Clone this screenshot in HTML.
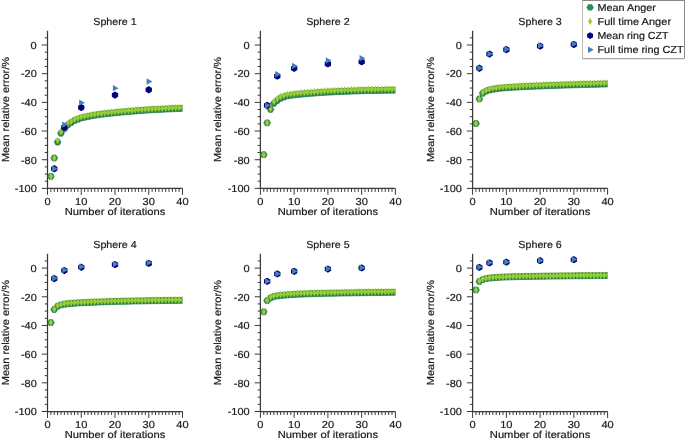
<!DOCTYPE html>
<html><head><meta charset="utf-8"><style>
html,body{margin:0;padding:0;background:#fff;}
svg{display:block;will-change:transform;}
text{text-rendering:geometricPrecision;font-family:"Liberation Sans",sans-serif;font-size:10.20px;fill:#1a1a1a;stroke:#1a1a1a;stroke-width:0.2px;}
</style></head><body>
<svg width="685" height="439" viewBox="0 0 685 439">
<rect width="685" height="439" fill="#fff"/>
<clipPath id="c0"><rect x="47.50" y="30.66" width="135.00" height="157.74"/></clipPath>
<g>
<path d="M47.50 30.66 V188.40 M46.90 188.40 H182.50" stroke="#3a3a3a" stroke-width="1.25" fill="none"/>
<path d="M47.50 188.40 H41.80 M47.50 181.23 H44.70 M47.50 174.06 H44.70 M47.50 166.89 H44.70 M47.50 159.72 H41.80 M47.50 152.55 H44.70 M47.50 145.38 H44.70 M47.50 138.21 H44.70 M47.50 131.04 H41.80 M47.50 123.87 H44.70 M47.50 116.70 H44.70 M47.50 109.53 H44.70 M47.50 102.36 H41.80 M47.50 95.19 H44.70 M47.50 88.02 H44.70 M47.50 80.85 H44.70 M47.50 73.68 H41.80 M47.50 66.51 H44.70 M47.50 59.34 H44.70 M47.50 52.17 H44.70 M47.50 45.00 H41.80 M47.50 37.83 H44.70 M47.50 188.40 V194.80 M50.88 188.40 V191.90 M54.25 188.40 V191.90 M57.62 188.40 V191.90 M61.00 188.40 V191.90 M64.38 188.40 V191.90 M67.75 188.40 V191.90 M71.12 188.40 V191.90 M74.50 188.40 V191.90 M77.88 188.40 V191.90 M81.25 188.40 V194.80 M84.62 188.40 V191.90 M88.00 188.40 V191.90 M91.38 188.40 V191.90 M94.75 188.40 V191.90 M98.12 188.40 V191.90 M101.50 188.40 V191.90 M104.88 188.40 V191.90 M108.25 188.40 V191.90 M111.62 188.40 V191.90 M115.00 188.40 V194.80 M118.38 188.40 V191.90 M121.75 188.40 V191.90 M125.12 188.40 V191.90 M128.50 188.40 V191.90 M131.88 188.40 V191.90 M135.25 188.40 V191.90 M138.62 188.40 V191.90 M142.00 188.40 V191.90 M145.38 188.40 V191.90 M148.75 188.40 V194.80 M152.12 188.40 V191.90 M155.50 188.40 V191.90 M158.88 188.40 V191.90 M162.25 188.40 V191.90 M165.62 188.40 V191.90 M169.00 188.40 V191.90 M172.38 188.40 V191.90 M175.75 188.40 V191.90 M179.12 188.40 V191.90 M182.50 188.40 V194.80" stroke="#3a3a3a" stroke-width="1" fill="none"/>
<text x="36.80" y="192.20" text-anchor="end" textLength="22.01" lengthAdjust="spacingAndGlyphs">-100</text>
<text x="36.80" y="163.52" text-anchor="end" textLength="15.84" lengthAdjust="spacingAndGlyphs">-80</text>
<text x="36.80" y="134.84" text-anchor="end" textLength="15.84" lengthAdjust="spacingAndGlyphs">-60</text>
<text x="36.80" y="106.16" text-anchor="end" textLength="15.84" lengthAdjust="spacingAndGlyphs">-40</text>
<text x="36.80" y="77.48" text-anchor="end" textLength="15.84" lengthAdjust="spacingAndGlyphs">-20</text>
<text x="36.80" y="48.80" text-anchor="end" textLength="6.17" lengthAdjust="spacingAndGlyphs">0</text>
<text x="47.50" y="204.80" text-anchor="middle" textLength="6.17" lengthAdjust="spacingAndGlyphs">0</text>
<text x="81.25" y="204.80" text-anchor="middle" textLength="12.34" lengthAdjust="spacingAndGlyphs">10</text>
<text x="115.00" y="204.80" text-anchor="middle" textLength="12.34" lengthAdjust="spacingAndGlyphs">20</text>
<text x="148.75" y="204.80" text-anchor="middle" textLength="12.34" lengthAdjust="spacingAndGlyphs">30</text>
<text x="182.50" y="204.80" text-anchor="middle" textLength="12.34" lengthAdjust="spacingAndGlyphs">40</text>
<text x="115.00" y="214.70" text-anchor="middle" textLength="100.51" lengthAdjust="spacingAndGlyphs">Number of iterations</text>
<text x="115.00" y="24.76" text-anchor="middle" textLength="43.43" lengthAdjust="spacingAndGlyphs">Sphere 1</text>
<text transform="translate(8.50 109.53) rotate(-90)" x="0" y="0" text-anchor="middle" textLength="105.15" lengthAdjust="spacingAndGlyphs">Mean relative error/%</text>
<g clip-path="url(#c0)">
<polygon points="54.27,176.35 52.58,173.41 49.17,173.41 47.48,176.35 49.17,179.30 52.58,179.30" fill="#2e8b57" stroke="#1f7a45" stroke-width="0.7"/>
<polygon points="57.65,158.00 55.95,155.05 52.55,155.05 50.85,158.00 52.55,160.94 55.95,160.94" fill="#2e8b57" stroke="#1f7a45" stroke-width="0.7"/>
<polygon points="61.02,142.08 59.33,139.14 55.92,139.14 54.23,142.08 55.92,145.03 59.33,145.03" fill="#2e8b57" stroke="#1f7a45" stroke-width="0.7"/>
<polygon points="64.40,133.19 62.70,130.25 59.30,130.25 57.60,133.19 59.30,136.14 62.70,136.14" fill="#2e8b57" stroke="#1f7a45" stroke-width="0.7"/>
<polygon points="67.78,128.75 66.08,125.80 62.67,125.80 60.98,128.75 62.67,131.69 66.08,131.69" fill="#2e8b57" stroke="#1f7a45" stroke-width="0.7"/>
<polygon points="71.15,125.02 69.45,122.07 66.05,122.07 64.35,125.02 66.05,127.96 69.45,127.96" fill="#2e8b57" stroke="#1f7a45" stroke-width="0.7"/>
<polygon points="74.53,122.64 72.83,119.69 69.42,119.69 67.72,122.64 69.42,125.58 72.83,125.58" fill="#2e8b57" stroke="#1f7a45" stroke-width="0.7"/>
<polygon points="77.90,120.57 76.20,117.63 72.80,117.63 71.10,120.57 72.80,123.52 76.20,123.52" fill="#2e8b57" stroke="#1f7a45" stroke-width="0.7"/>
<polygon points="81.28,119.21 79.58,116.26 76.17,116.26 74.47,119.21 76.17,122.15 79.58,122.15" fill="#2e8b57" stroke="#1f7a45" stroke-width="0.7"/>
<polygon points="84.65,117.99 82.95,115.05 79.55,115.05 77.85,117.99 79.55,120.94 82.95,120.94" fill="#2e8b57" stroke="#1f7a45" stroke-width="0.7"/>
<polygon points="88.03,117.22 86.33,114.27 82.92,114.27 81.22,117.22 82.92,120.16 86.33,120.16" fill="#2e8b57" stroke="#1f7a45" stroke-width="0.7"/>
<polygon points="91.40,116.51 89.70,113.56 86.30,113.56 84.60,116.51 86.30,119.45 89.70,119.45" fill="#2e8b57" stroke="#1f7a45" stroke-width="0.7"/>
<polygon points="94.78,115.86 93.08,112.91 89.67,112.91 87.97,115.86 89.67,118.80 93.08,118.80" fill="#2e8b57" stroke="#1f7a45" stroke-width="0.7"/>
<polygon points="98.15,115.25 96.45,112.31 93.05,112.31 91.35,115.25 93.05,118.20 96.45,118.20" fill="#2e8b57" stroke="#1f7a45" stroke-width="0.7"/>
<polygon points="101.53,114.69 99.83,111.75 96.42,111.75 94.72,114.69 96.42,117.64 99.83,117.64" fill="#2e8b57" stroke="#1f7a45" stroke-width="0.7"/>
<polygon points="104.90,114.27 103.20,111.33 99.80,111.33 98.10,114.27 99.80,117.22 103.20,117.22" fill="#2e8b57" stroke="#1f7a45" stroke-width="0.7"/>
<polygon points="108.28,113.88 106.58,110.94 103.17,110.94 101.47,113.88 103.17,116.83 106.58,116.83" fill="#2e8b57" stroke="#1f7a45" stroke-width="0.7"/>
<polygon points="111.65,113.51 109.95,110.57 106.55,110.57 104.85,113.51 106.55,116.46 109.95,116.46" fill="#2e8b57" stroke="#1f7a45" stroke-width="0.7"/>
<polygon points="115.03,113.16 113.33,110.22 109.92,110.22 108.22,113.16 109.92,116.11 113.33,116.11" fill="#2e8b57" stroke="#1f7a45" stroke-width="0.7"/>
<polygon points="118.40,112.83 116.70,109.88 113.30,109.88 111.60,112.83 113.30,115.77 116.70,115.77" fill="#2e8b57" stroke="#1f7a45" stroke-width="0.7"/>
<polygon points="121.78,112.48 120.08,109.54 116.67,109.54 114.97,112.48 116.67,115.43 120.08,115.43" fill="#2e8b57" stroke="#1f7a45" stroke-width="0.7"/>
<polygon points="125.15,112.15 123.45,109.21 120.05,109.21 118.35,112.15 120.05,115.10 123.45,115.10" fill="#2e8b57" stroke="#1f7a45" stroke-width="0.7"/>
<polygon points="128.53,111.84 126.83,108.90 123.42,108.90 121.72,111.84 123.42,114.78 126.83,114.78" fill="#2e8b57" stroke="#1f7a45" stroke-width="0.7"/>
<polygon points="131.90,111.54 130.20,108.59 126.80,108.59 125.10,111.54 126.80,114.48 130.20,114.48" fill="#2e8b57" stroke="#1f7a45" stroke-width="0.7"/>
<polygon points="135.28,111.25 133.57,108.31 130.18,108.31 128.47,111.25 130.18,114.19 133.57,114.19" fill="#2e8b57" stroke="#1f7a45" stroke-width="0.7"/>
<polygon points="138.65,110.97 136.95,108.03 133.55,108.03 131.85,110.97 133.55,113.92 136.95,113.92" fill="#2e8b57" stroke="#1f7a45" stroke-width="0.7"/>
<polygon points="142.03,110.71 140.32,107.76 136.93,107.76 135.22,110.71 136.93,113.65 140.32,113.65" fill="#2e8b57" stroke="#1f7a45" stroke-width="0.7"/>
<polygon points="145.40,110.45 143.70,107.50 140.30,107.50 138.60,110.45 140.30,113.39 143.70,113.39" fill="#2e8b57" stroke="#1f7a45" stroke-width="0.7"/>
<polygon points="148.78,110.20 147.07,107.26 143.68,107.26 141.97,110.20 143.68,113.14 147.07,113.14" fill="#2e8b57" stroke="#1f7a45" stroke-width="0.7"/>
<polygon points="152.15,109.96 150.45,107.02 147.05,107.02 145.35,109.96 147.05,112.90 150.45,112.90" fill="#2e8b57" stroke="#1f7a45" stroke-width="0.7"/>
<polygon points="155.53,109.78 153.82,106.84 150.43,106.84 148.72,109.78 150.43,112.72 153.82,112.72" fill="#2e8b57" stroke="#1f7a45" stroke-width="0.7"/>
<polygon points="158.90,109.61 157.20,106.66 153.80,106.66 152.10,109.61 153.80,112.55 157.20,112.55" fill="#2e8b57" stroke="#1f7a45" stroke-width="0.7"/>
<polygon points="162.28,109.44 160.57,106.49 157.18,106.49 155.47,109.44 157.18,112.38 160.57,112.38" fill="#2e8b57" stroke="#1f7a45" stroke-width="0.7"/>
<polygon points="165.65,109.27 163.95,106.33 160.55,106.33 158.85,109.27 160.55,112.22 163.95,112.22" fill="#2e8b57" stroke="#1f7a45" stroke-width="0.7"/>
<polygon points="169.03,109.11 167.32,106.17 163.93,106.17 162.22,109.11 163.93,112.06 167.32,112.06" fill="#2e8b57" stroke="#1f7a45" stroke-width="0.7"/>
<polygon points="172.40,108.96 170.70,106.02 167.30,106.02 165.60,108.96 167.30,111.90 170.70,111.90" fill="#2e8b57" stroke="#1f7a45" stroke-width="0.7"/>
<polygon points="175.78,108.81 174.07,105.87 170.68,105.87 168.97,108.81 170.68,111.75 174.07,111.75" fill="#2e8b57" stroke="#1f7a45" stroke-width="0.7"/>
<polygon points="179.15,108.66 177.45,105.72 174.05,105.72 172.35,108.66 174.05,111.61 177.45,111.61" fill="#2e8b57" stroke="#1f7a45" stroke-width="0.7"/>
<polygon points="182.53,108.52 180.82,105.58 177.43,105.58 175.72,108.52 177.43,111.47 180.82,111.47" fill="#2e8b57" stroke="#1f7a45" stroke-width="0.7"/>
<polygon points="185.90,108.38 184.20,105.44 180.80,105.44 179.10,108.38 180.80,111.33 184.20,111.33" fill="#2e8b57" stroke="#1f7a45" stroke-width="0.7"/>
<polygon points="50.88,172.65 52.98,176.35 50.88,180.05 48.77,176.35" fill="#9acd32"/>
<polygon points="54.25,154.30 56.35,158.00 54.25,161.70 52.15,158.00" fill="#9acd32"/>
<polygon points="57.62,136.66 59.73,140.36 57.62,144.06 55.52,140.36" fill="#9acd32"/>
<polygon points="61.00,128.20 63.10,131.90 61.00,135.60 58.90,131.90" fill="#9acd32"/>
<polygon points="64.38,123.79 66.47,127.49 64.38,131.19 62.27,127.49" fill="#9acd32"/>
<polygon points="67.75,120.09 69.85,123.79 67.75,127.49 65.65,123.79" fill="#9acd32"/>
<polygon points="71.12,117.73 73.22,121.43 71.12,125.13 69.03,121.43" fill="#9acd32"/>
<polygon points="74.50,115.69 76.60,119.39 74.50,123.09 72.40,119.39" fill="#9acd32"/>
<polygon points="77.88,114.35 79.97,118.05 77.88,121.75 75.78,118.05" fill="#9acd32"/>
<polygon points="81.25,113.14 83.35,116.84 81.25,120.54 79.15,116.84" fill="#9acd32"/>
<polygon points="84.62,112.38 86.72,116.08 84.62,119.78 82.53,116.08" fill="#9acd32"/>
<polygon points="88.00,111.68 90.10,115.38 88.00,119.08 85.90,115.38" fill="#9acd32"/>
<polygon points="91.38,111.04 93.47,114.74 91.38,118.44 89.28,114.74" fill="#9acd32"/>
<polygon points="94.75,110.44 96.85,114.14 94.75,117.84 92.65,114.14" fill="#9acd32"/>
<polygon points="98.12,109.89 100.22,113.59 98.12,117.29 96.03,113.59" fill="#9acd32"/>
<polygon points="101.50,109.48 103.60,113.18 101.50,116.88 99.40,113.18" fill="#9acd32"/>
<polygon points="104.88,109.09 106.97,112.79 104.88,116.49 102.78,112.79" fill="#9acd32"/>
<polygon points="108.25,108.72 110.35,112.42 108.25,116.12 106.15,112.42" fill="#9acd32"/>
<polygon points="111.62,108.38 113.72,112.08 111.62,115.78 109.53,112.08" fill="#9acd32"/>
<polygon points="115.00,108.05 117.10,111.75 115.00,115.45 112.90,111.75" fill="#9acd32"/>
<polygon points="118.38,107.71 120.47,111.41 118.38,115.11 116.28,111.41" fill="#9acd32"/>
<polygon points="121.75,107.39 123.85,111.09 121.75,114.79 119.65,111.09" fill="#9acd32"/>
<polygon points="125.12,107.08 127.22,110.78 125.12,114.48 123.03,110.78" fill="#9acd32"/>
<polygon points="128.50,106.78 130.60,110.48 128.50,114.18 126.40,110.48" fill="#9acd32"/>
<polygon points="131.88,106.50 133.97,110.20 131.88,113.90 129.78,110.20" fill="#9acd32"/>
<polygon points="135.25,106.22 137.35,109.92 135.25,113.62 133.15,109.92" fill="#9acd32"/>
<polygon points="138.62,105.96 140.72,109.66 138.62,113.36 136.53,109.66" fill="#9acd32"/>
<polygon points="142.00,105.71 144.10,109.41 142.00,113.11 139.90,109.41" fill="#9acd32"/>
<polygon points="145.38,105.46 147.47,109.16 145.38,112.86 143.28,109.16" fill="#9acd32"/>
<polygon points="148.75,105.23 150.85,108.93 148.75,112.63 146.65,108.93" fill="#9acd32"/>
<polygon points="152.12,105.05 154.22,108.75 152.12,112.45 150.03,108.75" fill="#9acd32"/>
<polygon points="155.50,104.88 157.60,108.58 155.50,112.28 153.40,108.58" fill="#9acd32"/>
<polygon points="158.88,104.71 160.97,108.41 158.88,112.11 156.78,108.41" fill="#9acd32"/>
<polygon points="162.25,104.55 164.35,108.25 162.25,111.95 160.15,108.25" fill="#9acd32"/>
<polygon points="165.62,104.40 167.72,108.10 165.62,111.80 163.53,108.10" fill="#9acd32"/>
<polygon points="169.00,104.25 171.10,107.95 169.00,111.65 166.90,107.95" fill="#9acd32"/>
<polygon points="172.38,104.10 174.47,107.80 172.38,111.50 170.28,107.80" fill="#9acd32"/>
<polygon points="175.75,103.95 177.85,107.65 175.75,111.35 173.65,107.65" fill="#9acd32"/>
<polygon points="179.12,103.82 181.22,107.52 179.12,111.22 177.03,107.52" fill="#9acd32"/>
<polygon points="182.50,103.68 184.60,107.38 182.50,111.08 180.40,107.38" fill="#9acd32"/>
<polygon points="54.25,165.10 51.09,166.93 51.09,170.58 54.25,172.40 57.41,170.58 57.41,166.93" fill="#000080"/>
<polygon points="64.38,123.66 61.21,125.49 61.21,129.14 64.38,130.96 67.54,129.14 67.54,125.49" fill="#000080"/>
<polygon points="81.25,103.87 78.09,105.70 78.09,109.35 81.25,111.17 84.41,109.35 84.41,105.70" fill="#000080"/>
<polygon points="115.00,91.40 111.84,93.22 111.84,96.87 115.00,98.70 118.16,96.87 118.16,93.22" fill="#000080"/>
<polygon points="148.75,86.09 145.59,87.92 145.59,91.57 148.75,93.39 151.91,91.57 151.91,87.92" fill="#000080"/>
<polygon points="57.95,168.75 52.15,165.55 52.15,171.95" fill="#4682b4"/>
<polygon points="68.08,124.59 62.27,121.39 62.27,127.79" fill="#4682b4"/>
<polygon points="84.95,102.65 79.15,99.45 79.15,105.85" fill="#4682b4"/>
<polygon points="118.70,88.16 112.90,84.96 112.90,91.36" fill="#4682b4"/>
<polygon points="152.45,81.57 146.65,78.37 146.65,84.77" fill="#4682b4"/>
</g>
</g>
<clipPath id="c1"><rect x="260.40" y="30.66" width="135.00" height="157.74"/></clipPath>
<g>
<path d="M260.40 30.66 V188.40 M259.80 188.40 H395.40" stroke="#3a3a3a" stroke-width="1.25" fill="none"/>
<path d="M260.40 188.40 H254.70 M260.40 181.23 H257.60 M260.40 174.06 H257.60 M260.40 166.89 H257.60 M260.40 159.72 H254.70 M260.40 152.55 H257.60 M260.40 145.38 H257.60 M260.40 138.21 H257.60 M260.40 131.04 H254.70 M260.40 123.87 H257.60 M260.40 116.70 H257.60 M260.40 109.53 H257.60 M260.40 102.36 H254.70 M260.40 95.19 H257.60 M260.40 88.02 H257.60 M260.40 80.85 H257.60 M260.40 73.68 H254.70 M260.40 66.51 H257.60 M260.40 59.34 H257.60 M260.40 52.17 H257.60 M260.40 45.00 H254.70 M260.40 37.83 H257.60 M260.40 188.40 V194.80 M263.77 188.40 V191.90 M267.15 188.40 V191.90 M270.52 188.40 V191.90 M273.90 188.40 V191.90 M277.27 188.40 V191.90 M280.65 188.40 V191.90 M284.02 188.40 V191.90 M287.40 188.40 V191.90 M290.77 188.40 V191.90 M294.15 188.40 V194.80 M297.52 188.40 V191.90 M300.90 188.40 V191.90 M304.27 188.40 V191.90 M307.65 188.40 V191.90 M311.02 188.40 V191.90 M314.40 188.40 V191.90 M317.77 188.40 V191.90 M321.15 188.40 V191.90 M324.52 188.40 V191.90 M327.90 188.40 V194.80 M331.27 188.40 V191.90 M334.65 188.40 V191.90 M338.02 188.40 V191.90 M341.40 188.40 V191.90 M344.77 188.40 V191.90 M348.15 188.40 V191.90 M351.52 188.40 V191.90 M354.90 188.40 V191.90 M358.27 188.40 V191.90 M361.65 188.40 V194.80 M365.02 188.40 V191.90 M368.40 188.40 V191.90 M371.77 188.40 V191.90 M375.15 188.40 V191.90 M378.52 188.40 V191.90 M381.90 188.40 V191.90 M385.27 188.40 V191.90 M388.65 188.40 V191.90 M392.02 188.40 V191.90 M395.40 188.40 V194.80" stroke="#3a3a3a" stroke-width="1" fill="none"/>
<text x="249.70" y="192.20" text-anchor="end" textLength="22.01" lengthAdjust="spacingAndGlyphs">-100</text>
<text x="249.70" y="163.52" text-anchor="end" textLength="15.84" lengthAdjust="spacingAndGlyphs">-80</text>
<text x="249.70" y="134.84" text-anchor="end" textLength="15.84" lengthAdjust="spacingAndGlyphs">-60</text>
<text x="249.70" y="106.16" text-anchor="end" textLength="15.84" lengthAdjust="spacingAndGlyphs">-40</text>
<text x="249.70" y="77.48" text-anchor="end" textLength="15.84" lengthAdjust="spacingAndGlyphs">-20</text>
<text x="249.70" y="48.80" text-anchor="end" textLength="6.17" lengthAdjust="spacingAndGlyphs">0</text>
<text x="260.40" y="204.80" text-anchor="middle" textLength="6.17" lengthAdjust="spacingAndGlyphs">0</text>
<text x="294.15" y="204.80" text-anchor="middle" textLength="12.34" lengthAdjust="spacingAndGlyphs">10</text>
<text x="327.90" y="204.80" text-anchor="middle" textLength="12.34" lengthAdjust="spacingAndGlyphs">20</text>
<text x="361.65" y="204.80" text-anchor="middle" textLength="12.34" lengthAdjust="spacingAndGlyphs">30</text>
<text x="395.40" y="204.80" text-anchor="middle" textLength="12.34" lengthAdjust="spacingAndGlyphs">40</text>
<text x="327.90" y="214.70" text-anchor="middle" textLength="100.51" lengthAdjust="spacingAndGlyphs">Number of iterations</text>
<text x="327.90" y="24.76" text-anchor="middle" textLength="43.43" lengthAdjust="spacingAndGlyphs">Sphere 2</text>
<text transform="translate(221.40 109.53) rotate(-90)" x="0" y="0" text-anchor="middle" textLength="105.15" lengthAdjust="spacingAndGlyphs">Mean relative error/%</text>
<g clip-path="url(#c1)">
<polygon points="267.17,154.70 265.47,151.76 262.07,151.76 260.38,154.70 262.07,157.65 265.47,157.65" fill="#2e8b57" stroke="#1f7a45" stroke-width="0.7"/>
<polygon points="270.55,122.87 268.85,119.92 265.45,119.92 263.75,122.87 265.45,125.81 268.85,125.81" fill="#2e8b57" stroke="#1f7a45" stroke-width="0.7"/>
<polygon points="273.92,109.39 272.22,106.44 268.82,106.44 267.12,109.39 268.82,112.33 272.22,112.33" fill="#2e8b57" stroke="#1f7a45" stroke-width="0.7"/>
<polygon points="277.30,103.36 275.60,100.42 272.20,100.42 270.50,103.36 272.20,106.31 275.60,106.31" fill="#2e8b57" stroke="#1f7a45" stroke-width="0.7"/>
<polygon points="280.67,100.50 278.97,97.55 275.57,97.55 273.88,100.50 275.57,103.44 278.97,103.44" fill="#2e8b57" stroke="#1f7a45" stroke-width="0.7"/>
<polygon points="284.05,98.20 282.35,95.26 278.95,95.26 277.25,98.20 278.95,101.15 282.35,101.15" fill="#2e8b57" stroke="#1f7a45" stroke-width="0.7"/>
<polygon points="287.42,96.97 285.72,94.03 282.32,94.03 280.62,96.97 282.32,99.92 285.72,99.92" fill="#2e8b57" stroke="#1f7a45" stroke-width="0.7"/>
<polygon points="290.80,95.91 289.10,92.96 285.70,92.96 284.00,95.91 285.70,98.85 289.10,98.85" fill="#2e8b57" stroke="#1f7a45" stroke-width="0.7"/>
<polygon points="294.17,95.38 292.47,92.43 289.07,92.43 287.38,95.38 289.07,98.32 292.47,98.32" fill="#2e8b57" stroke="#1f7a45" stroke-width="0.7"/>
<polygon points="297.55,94.90 295.85,91.96 292.45,91.96 290.75,94.90 292.45,97.85 295.85,97.85" fill="#2e8b57" stroke="#1f7a45" stroke-width="0.7"/>
<polygon points="300.92,94.53 299.22,91.59 295.82,91.59 294.12,94.53 295.82,97.48 299.22,97.48" fill="#2e8b57" stroke="#1f7a45" stroke-width="0.7"/>
<polygon points="304.30,94.19 302.60,91.25 299.20,91.25 297.50,94.19 299.20,97.14 302.60,97.14" fill="#2e8b57" stroke="#1f7a45" stroke-width="0.7"/>
<polygon points="307.67,93.88 305.97,90.94 302.57,90.94 300.88,93.88 302.57,96.83 305.97,96.83" fill="#2e8b57" stroke="#1f7a45" stroke-width="0.7"/>
<polygon points="311.05,93.59 309.35,90.65 305.95,90.65 304.25,93.59 305.95,96.54 309.35,96.54" fill="#2e8b57" stroke="#1f7a45" stroke-width="0.7"/>
<polygon points="314.42,93.33 312.72,90.38 309.32,90.38 307.62,93.33 309.32,96.27 312.72,96.27" fill="#2e8b57" stroke="#1f7a45" stroke-width="0.7"/>
<polygon points="317.80,93.07 316.10,90.12 312.70,90.12 311.00,93.07 312.70,96.01 316.10,96.01" fill="#2e8b57" stroke="#1f7a45" stroke-width="0.7"/>
<polygon points="321.17,92.83 319.47,89.88 316.07,89.88 314.38,92.83 316.07,95.77 319.47,95.77" fill="#2e8b57" stroke="#1f7a45" stroke-width="0.7"/>
<polygon points="324.55,92.60 322.85,89.65 319.45,89.65 317.75,92.60 319.45,95.54 322.85,95.54" fill="#2e8b57" stroke="#1f7a45" stroke-width="0.7"/>
<polygon points="327.92,92.38 326.22,89.44 322.82,89.44 321.12,92.38 322.82,95.33 326.22,95.33" fill="#2e8b57" stroke="#1f7a45" stroke-width="0.7"/>
<polygon points="331.30,92.18 329.60,89.23 326.20,89.23 324.50,92.18 326.20,95.12 329.60,95.12" fill="#2e8b57" stroke="#1f7a45" stroke-width="0.7"/>
<polygon points="334.67,92.01 332.97,89.06 329.57,89.06 327.88,92.01 329.57,94.95 332.97,94.95" fill="#2e8b57" stroke="#1f7a45" stroke-width="0.7"/>
<polygon points="338.05,91.84 336.35,88.90 332.95,88.90 331.25,91.84 332.95,94.79 336.35,94.79" fill="#2e8b57" stroke="#1f7a45" stroke-width="0.7"/>
<polygon points="341.42,91.68 339.72,88.74 336.32,88.74 334.62,91.68 336.32,94.63 339.72,94.63" fill="#2e8b57" stroke="#1f7a45" stroke-width="0.7"/>
<polygon points="344.80,91.53 343.10,88.59 339.70,88.59 338.00,91.53 339.70,94.48 343.10,94.48" fill="#2e8b57" stroke="#1f7a45" stroke-width="0.7"/>
<polygon points="348.17,91.39 346.47,88.44 343.07,88.44 341.38,91.39 343.07,94.33 346.47,94.33" fill="#2e8b57" stroke="#1f7a45" stroke-width="0.7"/>
<polygon points="351.55,91.25 349.85,88.31 346.45,88.31 344.75,91.25 346.45,94.20 349.85,94.20" fill="#2e8b57" stroke="#1f7a45" stroke-width="0.7"/>
<polygon points="354.92,91.12 353.22,88.17 349.82,88.17 348.12,91.12 349.82,94.06 353.22,94.06" fill="#2e8b57" stroke="#1f7a45" stroke-width="0.7"/>
<polygon points="358.30,90.99 356.60,88.04 353.20,88.04 351.50,90.99 353.20,93.93 356.60,93.93" fill="#2e8b57" stroke="#1f7a45" stroke-width="0.7"/>
<polygon points="361.67,90.86 359.97,87.92 356.57,87.92 354.88,90.86 356.57,93.81 359.97,93.81" fill="#2e8b57" stroke="#1f7a45" stroke-width="0.7"/>
<polygon points="365.05,90.74 363.35,87.80 359.95,87.80 358.25,90.74 359.95,93.69 363.35,93.69" fill="#2e8b57" stroke="#1f7a45" stroke-width="0.7"/>
<polygon points="368.42,90.68 366.72,87.73 363.32,87.73 361.62,90.68 363.32,93.62 366.72,93.62" fill="#2e8b57" stroke="#1f7a45" stroke-width="0.7"/>
<polygon points="371.80,90.62 370.10,87.67 366.70,87.67 365.00,90.62 366.70,93.56 370.10,93.56" fill="#2e8b57" stroke="#1f7a45" stroke-width="0.7"/>
<polygon points="375.17,90.55 373.47,87.61 370.07,87.61 368.38,90.55 370.07,93.50 373.47,93.50" fill="#2e8b57" stroke="#1f7a45" stroke-width="0.7"/>
<polygon points="378.55,90.50 376.85,87.55 373.45,87.55 371.75,90.50 373.45,93.44 376.85,93.44" fill="#2e8b57" stroke="#1f7a45" stroke-width="0.7"/>
<polygon points="381.92,90.44 380.22,87.49 376.82,87.49 375.12,90.44 376.82,93.38 380.22,93.38" fill="#2e8b57" stroke="#1f7a45" stroke-width="0.7"/>
<polygon points="385.30,90.38 383.60,87.44 380.20,87.44 378.50,90.38 380.20,93.33 383.60,93.33" fill="#2e8b57" stroke="#1f7a45" stroke-width="0.7"/>
<polygon points="388.67,90.33 386.97,87.38 383.57,87.38 381.88,90.33 383.57,93.27 386.97,93.27" fill="#2e8b57" stroke="#1f7a45" stroke-width="0.7"/>
<polygon points="392.05,90.27 390.35,87.33 386.95,87.33 385.25,90.27 386.95,93.22 390.35,93.22" fill="#2e8b57" stroke="#1f7a45" stroke-width="0.7"/>
<polygon points="395.42,90.22 393.72,87.28 390.32,87.28 388.62,90.22 390.32,93.17 393.72,93.17" fill="#2e8b57" stroke="#1f7a45" stroke-width="0.7"/>
<polygon points="398.80,90.17 397.10,87.23 393.70,87.23 392.00,90.17 393.70,93.12 397.10,93.12" fill="#2e8b57" stroke="#1f7a45" stroke-width="0.7"/>
<polygon points="263.77,151.00 265.88,154.70 263.77,158.40 261.67,154.70" fill="#9acd32"/>
<polygon points="267.15,119.17 269.25,122.87 267.15,126.57 265.05,122.87" fill="#9acd32"/>
<polygon points="270.52,104.97 272.62,108.67 270.52,112.37 268.42,108.67" fill="#9acd32"/>
<polygon points="273.90,97.94 276.00,101.64 273.90,105.34 271.80,101.64" fill="#9acd32"/>
<polygon points="277.27,95.08 279.38,98.78 277.27,102.48 275.17,98.78" fill="#9acd32"/>
<polygon points="280.65,92.78 282.75,96.48 280.65,100.18 278.55,96.48" fill="#9acd32"/>
<polygon points="284.02,91.64 286.12,95.34 284.02,99.04 281.92,95.34" fill="#9acd32"/>
<polygon points="287.40,90.65 289.50,94.35 287.40,98.05 285.30,94.35" fill="#9acd32"/>
<polygon points="290.77,90.18 292.88,93.88 290.77,97.58 288.67,93.88" fill="#9acd32"/>
<polygon points="294.15,89.77 296.25,93.47 294.15,97.17 292.05,93.47" fill="#9acd32"/>
<polygon points="297.52,89.41 299.62,93.11 297.52,96.81 295.42,93.11" fill="#9acd32"/>
<polygon points="300.90,89.08 303.00,92.78 300.90,96.48 298.80,92.78" fill="#9acd32"/>
<polygon points="304.27,88.78 306.38,92.48 304.27,96.18 302.17,92.48" fill="#9acd32"/>
<polygon points="307.65,88.50 309.75,92.20 307.65,95.90 305.55,92.20" fill="#9acd32"/>
<polygon points="311.02,88.23 313.12,91.93 311.02,95.63 308.92,91.93" fill="#9acd32"/>
<polygon points="314.40,87.98 316.50,91.68 314.40,95.38 312.30,91.68" fill="#9acd32"/>
<polygon points="317.77,87.75 319.88,91.45 317.77,95.15 315.67,91.45" fill="#9acd32"/>
<polygon points="321.15,87.53 323.25,91.23 321.15,94.93 319.05,91.23" fill="#9acd32"/>
<polygon points="324.52,87.32 326.62,91.02 324.52,94.72 322.42,91.02" fill="#9acd32"/>
<polygon points="327.90,87.12 330.00,90.82 327.90,94.52 325.80,90.82" fill="#9acd32"/>
<polygon points="331.27,86.95 333.38,90.65 331.27,94.35 329.17,90.65" fill="#9acd32"/>
<polygon points="334.65,86.79 336.75,90.49 334.65,94.19 332.55,90.49" fill="#9acd32"/>
<polygon points="338.02,86.64 340.12,90.34 338.02,94.04 335.92,90.34" fill="#9acd32"/>
<polygon points="341.40,86.49 343.50,90.19 341.40,93.89 339.30,90.19" fill="#9acd32"/>
<polygon points="344.77,86.35 346.88,90.05 344.77,93.75 342.67,90.05" fill="#9acd32"/>
<polygon points="348.15,86.22 350.25,89.92 348.15,93.62 346.05,89.92" fill="#9acd32"/>
<polygon points="351.52,86.09 353.62,89.79 351.52,93.49 349.42,89.79" fill="#9acd32"/>
<polygon points="354.90,85.96 357.00,89.66 354.90,93.36 352.80,89.66" fill="#9acd32"/>
<polygon points="358.27,85.84 360.38,89.54 358.27,93.24 356.17,89.54" fill="#9acd32"/>
<polygon points="361.65,85.72 363.75,89.42 361.65,93.12 359.55,89.42" fill="#9acd32"/>
<polygon points="365.02,85.66 367.12,89.36 365.02,93.06 362.92,89.36" fill="#9acd32"/>
<polygon points="368.40,85.60 370.50,89.30 368.40,93.00 366.30,89.30" fill="#9acd32"/>
<polygon points="371.77,85.54 373.88,89.24 371.77,92.94 369.67,89.24" fill="#9acd32"/>
<polygon points="375.15,85.49 377.25,89.19 375.15,92.89 373.05,89.19" fill="#9acd32"/>
<polygon points="378.52,85.43 380.62,89.13 378.52,92.83 376.42,89.13" fill="#9acd32"/>
<polygon points="381.90,85.38 384.00,89.08 381.90,92.78 379.80,89.08" fill="#9acd32"/>
<polygon points="385.27,85.33 387.38,89.03 385.27,92.73 383.17,89.03" fill="#9acd32"/>
<polygon points="388.65,85.28 390.75,88.98 388.65,92.68 386.55,88.98" fill="#9acd32"/>
<polygon points="392.02,85.23 394.12,88.93 392.02,92.63 389.92,88.93" fill="#9acd32"/>
<polygon points="395.40,85.18 397.50,88.88 395.40,92.58 393.30,88.88" fill="#9acd32"/>
<polygon points="267.15,101.72 263.99,103.55 263.99,107.20 267.15,109.02 270.31,107.20 270.31,103.55" fill="#000080"/>
<polygon points="277.27,72.47 274.11,74.29 274.11,77.94 277.27,79.77 280.44,77.94 280.44,74.29" fill="#000080"/>
<polygon points="294.15,64.58 290.99,66.41 290.99,70.06 294.15,71.88 297.31,70.06 297.31,66.41" fill="#000080"/>
<polygon points="327.90,60.28 324.74,62.10 324.74,65.75 327.90,67.58 331.06,65.75 331.06,62.10" fill="#000080"/>
<polygon points="361.65,58.13 358.49,59.95 358.49,63.60 361.65,65.43 364.81,63.60 364.81,59.95" fill="#000080"/>
<polygon points="270.85,105.51 265.05,102.31 265.05,108.71" fill="#4682b4"/>
<polygon points="280.97,74.25 275.17,71.05 275.17,77.45" fill="#4682b4"/>
<polygon points="297.85,65.94 292.05,62.74 292.05,69.14" fill="#4682b4"/>
<polygon points="331.60,60.49 325.80,57.29 325.80,63.69" fill="#4682b4"/>
<polygon points="365.35,58.19 359.55,54.99 359.55,61.39" fill="#4682b4"/>
</g>
</g>
<clipPath id="c2"><rect x="472.60" y="30.66" width="135.00" height="157.74"/></clipPath>
<g>
<path d="M472.60 30.66 V188.40 M472.00 188.40 H607.60" stroke="#3a3a3a" stroke-width="1.25" fill="none"/>
<path d="M472.60 188.40 H466.90 M472.60 181.23 H469.80 M472.60 174.06 H469.80 M472.60 166.89 H469.80 M472.60 159.72 H466.90 M472.60 152.55 H469.80 M472.60 145.38 H469.80 M472.60 138.21 H469.80 M472.60 131.04 H466.90 M472.60 123.87 H469.80 M472.60 116.70 H469.80 M472.60 109.53 H469.80 M472.60 102.36 H466.90 M472.60 95.19 H469.80 M472.60 88.02 H469.80 M472.60 80.85 H469.80 M472.60 73.68 H466.90 M472.60 66.51 H469.80 M472.60 59.34 H469.80 M472.60 52.17 H469.80 M472.60 45.00 H466.90 M472.60 37.83 H469.80 M472.60 188.40 V194.80 M475.98 188.40 V191.90 M479.35 188.40 V191.90 M482.73 188.40 V191.90 M486.10 188.40 V191.90 M489.48 188.40 V191.90 M492.85 188.40 V191.90 M496.23 188.40 V191.90 M499.60 188.40 V191.90 M502.98 188.40 V191.90 M506.35 188.40 V194.80 M509.73 188.40 V191.90 M513.10 188.40 V191.90 M516.48 188.40 V191.90 M519.85 188.40 V191.90 M523.23 188.40 V191.90 M526.60 188.40 V191.90 M529.98 188.40 V191.90 M533.35 188.40 V191.90 M536.73 188.40 V191.90 M540.10 188.40 V194.80 M543.48 188.40 V191.90 M546.85 188.40 V191.90 M550.23 188.40 V191.90 M553.60 188.40 V191.90 M556.98 188.40 V191.90 M560.35 188.40 V191.90 M563.73 188.40 V191.90 M567.10 188.40 V191.90 M570.48 188.40 V191.90 M573.85 188.40 V194.80 M577.23 188.40 V191.90 M580.60 188.40 V191.90 M583.98 188.40 V191.90 M587.35 188.40 V191.90 M590.73 188.40 V191.90 M594.10 188.40 V191.90 M597.48 188.40 V191.90 M600.85 188.40 V191.90 M604.23 188.40 V191.90 M607.60 188.40 V194.80" stroke="#3a3a3a" stroke-width="1" fill="none"/>
<text x="461.90" y="192.20" text-anchor="end" textLength="22.01" lengthAdjust="spacingAndGlyphs">-100</text>
<text x="461.90" y="163.52" text-anchor="end" textLength="15.84" lengthAdjust="spacingAndGlyphs">-80</text>
<text x="461.90" y="134.84" text-anchor="end" textLength="15.84" lengthAdjust="spacingAndGlyphs">-60</text>
<text x="461.90" y="106.16" text-anchor="end" textLength="15.84" lengthAdjust="spacingAndGlyphs">-40</text>
<text x="461.90" y="77.48" text-anchor="end" textLength="15.84" lengthAdjust="spacingAndGlyphs">-20</text>
<text x="461.90" y="48.80" text-anchor="end" textLength="6.17" lengthAdjust="spacingAndGlyphs">0</text>
<text x="472.60" y="204.80" text-anchor="middle" textLength="6.17" lengthAdjust="spacingAndGlyphs">0</text>
<text x="506.35" y="204.80" text-anchor="middle" textLength="12.34" lengthAdjust="spacingAndGlyphs">10</text>
<text x="540.10" y="204.80" text-anchor="middle" textLength="12.34" lengthAdjust="spacingAndGlyphs">20</text>
<text x="573.85" y="204.80" text-anchor="middle" textLength="12.34" lengthAdjust="spacingAndGlyphs">30</text>
<text x="607.60" y="204.80" text-anchor="middle" textLength="12.34" lengthAdjust="spacingAndGlyphs">40</text>
<text x="540.10" y="214.70" text-anchor="middle" textLength="100.51" lengthAdjust="spacingAndGlyphs">Number of iterations</text>
<text x="540.10" y="24.76" text-anchor="middle" textLength="43.43" lengthAdjust="spacingAndGlyphs">Sphere 3</text>
<text transform="translate(433.60 109.53) rotate(-90)" x="0" y="0" text-anchor="middle" textLength="105.15" lengthAdjust="spacingAndGlyphs">Mean relative error/%</text>
<g clip-path="url(#c2)">
<polygon points="479.38,123.51 477.68,120.57 474.28,120.57 472.58,123.51 474.28,126.46 477.68,126.46" fill="#2e8b57" stroke="#1f7a45" stroke-width="0.7"/>
<polygon points="482.75,98.92 481.05,95.97 477.65,95.97 475.95,98.92 477.65,101.86 481.05,101.86" fill="#2e8b57" stroke="#1f7a45" stroke-width="0.7"/>
<polygon points="486.12,93.18 484.43,90.24 481.03,90.24 479.33,93.18 481.03,96.13 484.43,96.13" fill="#2e8b57" stroke="#1f7a45" stroke-width="0.7"/>
<polygon points="489.50,91.17 487.80,88.23 484.40,88.23 482.70,91.17 484.40,94.12 487.80,94.12" fill="#2e8b57" stroke="#1f7a45" stroke-width="0.7"/>
<polygon points="492.88,90.03 491.18,87.08 487.78,87.08 486.08,90.03 487.78,92.97 491.18,92.97" fill="#2e8b57" stroke="#1f7a45" stroke-width="0.7"/>
<polygon points="496.25,89.31 494.55,86.37 491.15,86.37 489.45,89.31 491.15,92.26 494.55,92.26" fill="#2e8b57" stroke="#1f7a45" stroke-width="0.7"/>
<polygon points="499.62,88.77 497.93,85.83 494.53,85.83 492.83,88.77 494.53,91.72 497.93,91.72" fill="#2e8b57" stroke="#1f7a45" stroke-width="0.7"/>
<polygon points="503.00,88.31 501.30,85.36 497.90,85.36 496.20,88.31 497.90,91.25 501.30,91.25" fill="#2e8b57" stroke="#1f7a45" stroke-width="0.7"/>
<polygon points="506.38,88.00 504.68,85.06 501.28,85.06 499.58,88.00 501.28,90.95 504.68,90.95" fill="#2e8b57" stroke="#1f7a45" stroke-width="0.7"/>
<polygon points="509.75,87.73 508.05,84.79 504.65,84.79 502.95,87.73 504.65,90.68 508.05,90.68" fill="#2e8b57" stroke="#1f7a45" stroke-width="0.7"/>
<polygon points="513.12,87.50 511.43,84.55 508.03,84.55 506.33,87.50 508.03,90.44 511.43,90.44" fill="#2e8b57" stroke="#1f7a45" stroke-width="0.7"/>
<polygon points="516.50,87.28 514.80,84.34 511.40,84.34 509.70,87.28 511.40,90.23 514.80,90.23" fill="#2e8b57" stroke="#1f7a45" stroke-width="0.7"/>
<polygon points="519.88,87.08 518.18,84.14 514.77,84.14 513.08,87.08 514.77,90.03 518.18,90.03" fill="#2e8b57" stroke="#1f7a45" stroke-width="0.7"/>
<polygon points="523.25,86.90 521.55,83.96 518.15,83.96 516.45,86.90 518.15,89.84 521.55,89.84" fill="#2e8b57" stroke="#1f7a45" stroke-width="0.7"/>
<polygon points="526.62,86.73 524.93,83.78 521.52,83.78 519.83,86.73 521.52,89.67 524.93,89.67" fill="#2e8b57" stroke="#1f7a45" stroke-width="0.7"/>
<polygon points="530.00,86.57 528.30,83.62 524.90,83.62 523.20,86.57 524.90,89.51 528.30,89.51" fill="#2e8b57" stroke="#1f7a45" stroke-width="0.7"/>
<polygon points="533.38,86.42 531.68,83.47 528.27,83.47 526.58,86.42 528.27,89.36 531.68,89.36" fill="#2e8b57" stroke="#1f7a45" stroke-width="0.7"/>
<polygon points="536.75,86.27 535.05,83.33 531.65,83.33 529.95,86.27 531.65,89.22 535.05,89.22" fill="#2e8b57" stroke="#1f7a45" stroke-width="0.7"/>
<polygon points="540.12,86.14 538.43,83.20 535.02,83.20 533.33,86.14 535.02,89.08 538.43,89.08" fill="#2e8b57" stroke="#1f7a45" stroke-width="0.7"/>
<polygon points="543.50,86.01 541.80,83.07 538.40,83.07 536.70,86.01 538.40,88.96 541.80,88.96" fill="#2e8b57" stroke="#1f7a45" stroke-width="0.7"/>
<polygon points="546.88,85.87 545.18,82.93 541.77,82.93 540.08,85.87 541.77,88.82 545.18,88.82" fill="#2e8b57" stroke="#1f7a45" stroke-width="0.7"/>
<polygon points="550.25,85.74 548.55,82.80 545.15,82.80 543.45,85.74 545.15,88.69 548.55,88.69" fill="#2e8b57" stroke="#1f7a45" stroke-width="0.7"/>
<polygon points="553.62,85.62 551.93,82.67 548.52,82.67 546.83,85.62 548.52,88.56 551.93,88.56" fill="#2e8b57" stroke="#1f7a45" stroke-width="0.7"/>
<polygon points="557.00,85.50 555.30,82.55 551.90,82.55 550.20,85.50 551.90,88.44 555.30,88.44" fill="#2e8b57" stroke="#1f7a45" stroke-width="0.7"/>
<polygon points="560.38,85.38 558.68,82.44 555.27,82.44 553.58,85.38 555.27,88.33 558.68,88.33" fill="#2e8b57" stroke="#1f7a45" stroke-width="0.7"/>
<polygon points="563.75,85.27 562.05,82.33 558.65,82.33 556.95,85.27 558.65,88.21 562.05,88.21" fill="#2e8b57" stroke="#1f7a45" stroke-width="0.7"/>
<polygon points="567.12,85.16 565.43,82.22 562.02,82.22 560.33,85.16 562.02,88.11 565.43,88.11" fill="#2e8b57" stroke="#1f7a45" stroke-width="0.7"/>
<polygon points="570.50,85.06 568.80,82.12 565.40,82.12 563.70,85.06 565.40,88.00 568.80,88.00" fill="#2e8b57" stroke="#1f7a45" stroke-width="0.7"/>
<polygon points="573.88,84.96 572.18,82.02 568.77,82.02 567.08,84.96 568.77,87.91 572.18,87.91" fill="#2e8b57" stroke="#1f7a45" stroke-width="0.7"/>
<polygon points="577.25,84.87 575.55,81.92 572.15,81.92 570.45,84.87 572.15,87.81 575.55,87.81" fill="#2e8b57" stroke="#1f7a45" stroke-width="0.7"/>
<polygon points="580.62,84.77 578.93,81.82 575.52,81.82 573.83,84.77 575.52,87.71 578.93,87.71" fill="#2e8b57" stroke="#1f7a45" stroke-width="0.7"/>
<polygon points="584.00,84.67 582.30,81.73 578.90,81.73 577.20,84.67 578.90,87.62 582.30,87.62" fill="#2e8b57" stroke="#1f7a45" stroke-width="0.7"/>
<polygon points="587.38,84.58 585.68,81.64 582.27,81.64 580.58,84.58 582.27,87.52 585.68,87.52" fill="#2e8b57" stroke="#1f7a45" stroke-width="0.7"/>
<polygon points="590.75,84.49 589.05,81.55 585.65,81.55 583.95,84.49 585.65,87.44 589.05,87.44" fill="#2e8b57" stroke="#1f7a45" stroke-width="0.7"/>
<polygon points="594.12,84.40 592.43,81.46 589.02,81.46 587.33,84.40 589.02,87.35 592.43,87.35" fill="#2e8b57" stroke="#1f7a45" stroke-width="0.7"/>
<polygon points="597.50,84.32 595.80,81.38 592.40,81.38 590.70,84.32 592.40,87.26 595.80,87.26" fill="#2e8b57" stroke="#1f7a45" stroke-width="0.7"/>
<polygon points="600.88,84.24 599.18,81.29 595.77,81.29 594.08,84.24 595.77,87.18 599.18,87.18" fill="#2e8b57" stroke="#1f7a45" stroke-width="0.7"/>
<polygon points="604.25,84.16 602.55,81.21 599.15,81.21 597.45,84.16 599.15,87.10 602.55,87.10" fill="#2e8b57" stroke="#1f7a45" stroke-width="0.7"/>
<polygon points="607.62,84.08 605.93,81.14 602.52,81.14 600.83,84.08 602.52,87.03 605.93,87.03" fill="#2e8b57" stroke="#1f7a45" stroke-width="0.7"/>
<polygon points="611.00,84.00 609.30,81.06 605.90,81.06 604.20,84.00 605.90,86.95 609.30,86.95" fill="#2e8b57" stroke="#1f7a45" stroke-width="0.7"/>
<polygon points="475.98,119.81 478.08,123.51 475.98,127.21 473.88,123.51" fill="#9acd32"/>
<polygon points="479.35,95.22 481.45,98.92 479.35,102.62 477.25,98.92" fill="#9acd32"/>
<polygon points="482.73,88.62 484.83,92.32 482.73,96.02 480.62,92.32" fill="#9acd32"/>
<polygon points="486.10,86.45 488.20,90.15 486.10,93.85 484.00,90.15" fill="#9acd32"/>
<polygon points="489.48,85.18 491.58,88.88 489.48,92.58 487.38,88.88" fill="#9acd32"/>
<polygon points="492.85,84.46 494.95,88.16 492.85,91.86 490.75,88.16" fill="#9acd32"/>
<polygon points="496.23,83.93 498.33,87.63 496.23,91.33 494.12,87.63" fill="#9acd32"/>
<polygon points="499.60,83.46 501.70,87.16 499.60,90.86 497.50,87.16" fill="#9acd32"/>
<polygon points="502.98,83.16 505.08,86.86 502.98,90.56 500.88,86.86" fill="#9acd32"/>
<polygon points="506.35,82.89 508.45,86.59 506.35,90.29 504.25,86.59" fill="#9acd32"/>
<polygon points="509.73,82.65 511.83,86.35 509.73,90.05 507.62,86.35" fill="#9acd32"/>
<polygon points="513.10,82.43 515.20,86.13 513.10,89.83 511.00,86.13" fill="#9acd32"/>
<polygon points="516.48,82.24 518.58,85.94 516.48,89.64 514.38,85.94" fill="#9acd32"/>
<polygon points="519.85,82.05 521.95,85.75 519.85,89.45 517.75,85.75" fill="#9acd32"/>
<polygon points="523.23,81.88 525.33,85.58 523.23,89.28 521.12,85.58" fill="#9acd32"/>
<polygon points="526.60,81.72 528.70,85.42 526.60,89.12 524.50,85.42" fill="#9acd32"/>
<polygon points="529.98,81.57 532.08,85.27 529.98,88.97 527.88,85.27" fill="#9acd32"/>
<polygon points="533.35,81.43 535.45,85.13 533.35,88.83 531.25,85.13" fill="#9acd32"/>
<polygon points="536.73,81.29 538.83,84.99 536.73,88.69 534.62,84.99" fill="#9acd32"/>
<polygon points="540.10,81.17 542.20,84.87 540.10,88.57 538.00,84.87" fill="#9acd32"/>
<polygon points="543.48,81.03 545.58,84.73 543.48,88.43 541.38,84.73" fill="#9acd32"/>
<polygon points="546.85,80.90 548.95,84.60 546.85,88.30 544.75,84.60" fill="#9acd32"/>
<polygon points="550.23,80.77 552.33,84.47 550.23,88.17 548.12,84.47" fill="#9acd32"/>
<polygon points="553.60,80.65 555.70,84.35 553.60,88.05 551.50,84.35" fill="#9acd32"/>
<polygon points="556.98,80.53 559.08,84.23 556.98,87.93 554.88,84.23" fill="#9acd32"/>
<polygon points="560.35,80.42 562.45,84.12 560.35,87.82 558.25,84.12" fill="#9acd32"/>
<polygon points="563.73,80.32 565.83,84.02 563.73,87.72 561.62,84.02" fill="#9acd32"/>
<polygon points="567.10,80.21 569.20,83.91 567.10,87.61 565.00,83.91" fill="#9acd32"/>
<polygon points="570.48,80.11 572.58,83.81 570.48,87.51 568.38,83.81" fill="#9acd32"/>
<polygon points="573.85,80.02 575.95,83.72 573.85,87.42 571.75,83.72" fill="#9acd32"/>
<polygon points="577.23,79.92 579.33,83.62 577.23,87.32 575.12,83.62" fill="#9acd32"/>
<polygon points="580.60,79.82 582.70,83.52 580.60,87.22 578.50,83.52" fill="#9acd32"/>
<polygon points="583.98,79.73 586.08,83.43 583.98,87.13 581.88,83.43" fill="#9acd32"/>
<polygon points="587.35,79.64 589.45,83.34 587.35,87.04 585.25,83.34" fill="#9acd32"/>
<polygon points="590.73,79.56 592.83,83.26 590.73,86.96 588.62,83.26" fill="#9acd32"/>
<polygon points="594.10,79.47 596.20,83.17 594.10,86.87 592.00,83.17" fill="#9acd32"/>
<polygon points="597.48,79.39 599.58,83.09 597.48,86.79 595.38,83.09" fill="#9acd32"/>
<polygon points="600.85,79.31 602.95,83.01 600.85,86.71 598.75,83.01" fill="#9acd32"/>
<polygon points="604.23,79.23 606.33,82.93 604.23,86.63 602.12,82.93" fill="#9acd32"/>
<polygon points="607.60,79.16 609.70,82.86 607.60,86.56 605.50,82.86" fill="#9acd32"/>
<polygon points="479.35,64.58 476.19,66.41 476.19,70.06 479.35,71.88 482.51,70.06 482.51,66.41" fill="#000080"/>
<polygon points="489.48,50.38 486.31,52.21 486.31,55.86 489.48,57.68 492.64,55.86 492.64,52.21" fill="#000080"/>
<polygon points="506.35,45.94 503.19,47.76 503.19,51.41 506.35,53.24 509.51,51.41 509.51,47.76" fill="#000080"/>
<polygon points="540.10,42.50 536.94,44.32 536.94,47.97 540.10,49.80 543.26,47.97 543.26,44.32" fill="#000080"/>
<polygon points="573.85,40.85 570.69,42.67 570.69,46.32 573.85,48.15 577.01,46.32 577.01,42.67" fill="#000080"/>
<polygon points="483.05,67.94 477.25,64.74 477.25,71.14" fill="#4682b4"/>
<polygon points="493.18,53.89 487.38,50.69 487.38,57.09" fill="#4682b4"/>
<polygon points="510.05,49.30 504.25,46.10 504.25,52.50" fill="#4682b4"/>
<polygon points="543.80,45.50 538.00,42.30 538.00,48.70" fill="#4682b4"/>
<polygon points="577.55,43.92 571.75,40.72 571.75,47.12" fill="#4682b4"/>
</g>
</g>
<clipPath id="c3"><rect x="47.50" y="253.76" width="135.00" height="157.74"/></clipPath>
<g>
<path d="M47.50 253.76 V411.50 M46.90 411.50 H182.50" stroke="#3a3a3a" stroke-width="1.25" fill="none"/>
<path d="M47.50 411.50 H41.80 M47.50 404.33 H44.70 M47.50 397.16 H44.70 M47.50 389.99 H44.70 M47.50 382.82 H41.80 M47.50 375.65 H44.70 M47.50 368.48 H44.70 M47.50 361.31 H44.70 M47.50 354.14 H41.80 M47.50 346.97 H44.70 M47.50 339.80 H44.70 M47.50 332.63 H44.70 M47.50 325.46 H41.80 M47.50 318.29 H44.70 M47.50 311.12 H44.70 M47.50 303.95 H44.70 M47.50 296.78 H41.80 M47.50 289.61 H44.70 M47.50 282.44 H44.70 M47.50 275.27 H44.70 M47.50 268.10 H41.80 M47.50 260.93 H44.70 M47.50 411.50 V417.90 M50.88 411.50 V415.00 M54.25 411.50 V415.00 M57.62 411.50 V415.00 M61.00 411.50 V415.00 M64.38 411.50 V415.00 M67.75 411.50 V415.00 M71.12 411.50 V415.00 M74.50 411.50 V415.00 M77.88 411.50 V415.00 M81.25 411.50 V417.90 M84.62 411.50 V415.00 M88.00 411.50 V415.00 M91.38 411.50 V415.00 M94.75 411.50 V415.00 M98.12 411.50 V415.00 M101.50 411.50 V415.00 M104.88 411.50 V415.00 M108.25 411.50 V415.00 M111.62 411.50 V415.00 M115.00 411.50 V417.90 M118.38 411.50 V415.00 M121.75 411.50 V415.00 M125.12 411.50 V415.00 M128.50 411.50 V415.00 M131.88 411.50 V415.00 M135.25 411.50 V415.00 M138.62 411.50 V415.00 M142.00 411.50 V415.00 M145.38 411.50 V415.00 M148.75 411.50 V417.90 M152.12 411.50 V415.00 M155.50 411.50 V415.00 M158.88 411.50 V415.00 M162.25 411.50 V415.00 M165.62 411.50 V415.00 M169.00 411.50 V415.00 M172.38 411.50 V415.00 M175.75 411.50 V415.00 M179.12 411.50 V415.00 M182.50 411.50 V417.90" stroke="#3a3a3a" stroke-width="1" fill="none"/>
<text x="36.80" y="415.30" text-anchor="end" textLength="22.01" lengthAdjust="spacingAndGlyphs">-100</text>
<text x="36.80" y="386.62" text-anchor="end" textLength="15.84" lengthAdjust="spacingAndGlyphs">-80</text>
<text x="36.80" y="357.94" text-anchor="end" textLength="15.84" lengthAdjust="spacingAndGlyphs">-60</text>
<text x="36.80" y="329.26" text-anchor="end" textLength="15.84" lengthAdjust="spacingAndGlyphs">-40</text>
<text x="36.80" y="300.58" text-anchor="end" textLength="15.84" lengthAdjust="spacingAndGlyphs">-20</text>
<text x="36.80" y="271.90" text-anchor="end" textLength="6.17" lengthAdjust="spacingAndGlyphs">0</text>
<text x="47.50" y="427.90" text-anchor="middle" textLength="6.17" lengthAdjust="spacingAndGlyphs">0</text>
<text x="81.25" y="427.90" text-anchor="middle" textLength="12.34" lengthAdjust="spacingAndGlyphs">10</text>
<text x="115.00" y="427.90" text-anchor="middle" textLength="12.34" lengthAdjust="spacingAndGlyphs">20</text>
<text x="148.75" y="427.90" text-anchor="middle" textLength="12.34" lengthAdjust="spacingAndGlyphs">30</text>
<text x="182.50" y="427.90" text-anchor="middle" textLength="12.34" lengthAdjust="spacingAndGlyphs">40</text>
<text x="115.00" y="437.80" text-anchor="middle" textLength="100.51" lengthAdjust="spacingAndGlyphs">Number of iterations</text>
<text x="115.00" y="247.86" text-anchor="middle" textLength="43.43" lengthAdjust="spacingAndGlyphs">Sphere 4</text>
<text transform="translate(8.50 332.63) rotate(-90)" x="0" y="0" text-anchor="middle" textLength="105.15" lengthAdjust="spacingAndGlyphs">Mean relative error/%</text>
<g clip-path="url(#c3)">
<polygon points="54.27,322.59 52.58,319.65 49.17,319.65 47.48,322.59 49.17,325.54 52.58,325.54" fill="#2e8b57" stroke="#1f7a45" stroke-width="0.7"/>
<polygon points="57.65,309.54 55.95,306.60 52.55,306.60 50.85,309.54 52.55,312.49 55.95,312.49" fill="#2e8b57" stroke="#1f7a45" stroke-width="0.7"/>
<polygon points="61.02,306.24 59.33,303.30 55.92,303.30 54.23,306.24 55.92,309.19 59.33,309.19" fill="#2e8b57" stroke="#1f7a45" stroke-width="0.7"/>
<polygon points="64.40,304.95 62.70,302.01 59.30,302.01 57.60,304.95 59.30,307.90 62.70,307.90" fill="#2e8b57" stroke="#1f7a45" stroke-width="0.7"/>
<polygon points="67.78,304.24 66.08,301.29 62.67,301.29 60.98,304.24 62.67,307.18 66.08,307.18" fill="#2e8b57" stroke="#1f7a45" stroke-width="0.7"/>
<polygon points="71.15,303.81 69.45,300.86 66.05,300.86 64.35,303.81 66.05,306.75 69.45,306.75" fill="#2e8b57" stroke="#1f7a45" stroke-width="0.7"/>
<polygon points="74.53,303.50 72.83,300.55 69.42,300.55 67.72,303.50 69.42,306.44 72.83,306.44" fill="#2e8b57" stroke="#1f7a45" stroke-width="0.7"/>
<polygon points="77.90,303.23 76.20,300.29 72.80,300.29 71.10,303.23 72.80,306.18 76.20,306.18" fill="#2e8b57" stroke="#1f7a45" stroke-width="0.7"/>
<polygon points="81.28,303.01 79.58,300.06 76.17,300.06 74.47,303.01 76.17,305.95 79.58,305.95" fill="#2e8b57" stroke="#1f7a45" stroke-width="0.7"/>
<polygon points="84.65,302.80 82.95,299.86 79.55,299.86 77.85,302.80 79.55,305.75 82.95,305.75" fill="#2e8b57" stroke="#1f7a45" stroke-width="0.7"/>
<polygon points="88.03,302.63 86.33,299.69 82.92,299.69 81.22,302.63 82.92,305.58 86.33,305.58" fill="#2e8b57" stroke="#1f7a45" stroke-width="0.7"/>
<polygon points="91.40,302.48 89.70,299.54 86.30,299.54 84.60,302.48 86.30,305.42 89.70,305.42" fill="#2e8b57" stroke="#1f7a45" stroke-width="0.7"/>
<polygon points="94.78,302.34 93.08,299.39 89.67,299.39 87.97,302.34 89.67,305.28 93.08,305.28" fill="#2e8b57" stroke="#1f7a45" stroke-width="0.7"/>
<polygon points="98.15,302.21 96.45,299.26 93.05,299.26 91.35,302.21 93.05,305.15 96.45,305.15" fill="#2e8b57" stroke="#1f7a45" stroke-width="0.7"/>
<polygon points="101.53,302.09 99.83,299.14 96.42,299.14 94.72,302.09 96.42,305.03 99.83,305.03" fill="#2e8b57" stroke="#1f7a45" stroke-width="0.7"/>
<polygon points="104.90,301.96 103.20,299.01 99.80,299.01 98.10,301.96 99.80,304.90 103.20,304.90" fill="#2e8b57" stroke="#1f7a45" stroke-width="0.7"/>
<polygon points="108.28,301.84 106.58,298.89 103.17,298.89 101.47,301.84 103.17,304.78 106.58,304.78" fill="#2e8b57" stroke="#1f7a45" stroke-width="0.7"/>
<polygon points="111.65,301.72 109.95,298.78 106.55,298.78 104.85,301.72 106.55,304.67 109.95,304.67" fill="#2e8b57" stroke="#1f7a45" stroke-width="0.7"/>
<polygon points="115.03,301.61 113.33,298.67 109.92,298.67 108.22,301.61 109.92,304.56 113.33,304.56" fill="#2e8b57" stroke="#1f7a45" stroke-width="0.7"/>
<polygon points="118.40,301.51 116.70,298.57 113.30,298.57 111.60,301.51 113.30,304.46 116.70,304.46" fill="#2e8b57" stroke="#1f7a45" stroke-width="0.7"/>
<polygon points="121.78,301.43 120.08,298.48 116.67,298.48 114.97,301.43 116.67,304.37 120.08,304.37" fill="#2e8b57" stroke="#1f7a45" stroke-width="0.7"/>
<polygon points="125.15,301.34 123.45,298.40 120.05,298.40 118.35,301.34 120.05,304.29 123.45,304.29" fill="#2e8b57" stroke="#1f7a45" stroke-width="0.7"/>
<polygon points="128.53,301.27 126.83,298.32 123.42,298.32 121.72,301.27 123.42,304.21 126.83,304.21" fill="#2e8b57" stroke="#1f7a45" stroke-width="0.7"/>
<polygon points="131.90,301.19 130.20,298.25 126.80,298.25 125.10,301.19 126.80,304.13 130.20,304.13" fill="#2e8b57" stroke="#1f7a45" stroke-width="0.7"/>
<polygon points="135.28,301.12 133.57,298.17 130.18,298.17 128.47,301.12 130.18,304.06 133.57,304.06" fill="#2e8b57" stroke="#1f7a45" stroke-width="0.7"/>
<polygon points="138.65,301.05 136.95,298.10 133.55,298.10 131.85,301.05 133.55,303.99 136.95,303.99" fill="#2e8b57" stroke="#1f7a45" stroke-width="0.7"/>
<polygon points="142.03,300.98 140.32,298.04 136.93,298.04 135.22,300.98 136.93,303.93 140.32,303.93" fill="#2e8b57" stroke="#1f7a45" stroke-width="0.7"/>
<polygon points="145.40,300.92 143.70,297.97 140.30,297.97 138.60,300.92 140.30,303.86 143.70,303.86" fill="#2e8b57" stroke="#1f7a45" stroke-width="0.7"/>
<polygon points="148.78,300.86 147.07,297.91 143.68,297.91 141.97,300.86 143.68,303.80 147.07,303.80" fill="#2e8b57" stroke="#1f7a45" stroke-width="0.7"/>
<polygon points="152.15,300.80 150.45,297.85 147.05,297.85 145.35,300.80 147.05,303.74 150.45,303.74" fill="#2e8b57" stroke="#1f7a45" stroke-width="0.7"/>
<polygon points="155.53,300.75 153.82,297.80 150.43,297.80 148.72,300.75 150.43,303.69 153.82,303.69" fill="#2e8b57" stroke="#1f7a45" stroke-width="0.7"/>
<polygon points="158.90,300.70 157.20,297.75 153.80,297.75 152.10,300.70 153.80,303.64 157.20,303.64" fill="#2e8b57" stroke="#1f7a45" stroke-width="0.7"/>
<polygon points="162.28,300.65 160.57,297.71 157.18,297.71 155.47,300.65 157.18,303.60 160.57,303.60" fill="#2e8b57" stroke="#1f7a45" stroke-width="0.7"/>
<polygon points="165.65,300.61 163.95,297.66 160.55,297.66 158.85,300.61 160.55,303.55 163.95,303.55" fill="#2e8b57" stroke="#1f7a45" stroke-width="0.7"/>
<polygon points="169.03,300.56 167.32,297.62 163.93,297.62 162.22,300.56 163.93,303.51 167.32,303.51" fill="#2e8b57" stroke="#1f7a45" stroke-width="0.7"/>
<polygon points="172.40,300.52 170.70,297.58 167.30,297.58 165.60,300.52 167.30,303.47 170.70,303.47" fill="#2e8b57" stroke="#1f7a45" stroke-width="0.7"/>
<polygon points="175.78,300.48 174.07,297.54 170.68,297.54 168.97,300.48 170.68,303.43 174.07,303.43" fill="#2e8b57" stroke="#1f7a45" stroke-width="0.7"/>
<polygon points="179.15,300.44 177.45,297.50 174.05,297.50 172.35,300.44 174.05,303.39 177.45,303.39" fill="#2e8b57" stroke="#1f7a45" stroke-width="0.7"/>
<polygon points="182.53,300.40 180.82,297.46 177.43,297.46 175.72,300.40 177.43,303.35 180.82,303.35" fill="#2e8b57" stroke="#1f7a45" stroke-width="0.7"/>
<polygon points="185.90,300.37 184.20,297.42 180.80,297.42 179.10,300.37 180.80,303.31 184.20,303.31" fill="#2e8b57" stroke="#1f7a45" stroke-width="0.7"/>
<polygon points="50.88,318.89 52.98,322.59 50.88,326.29 48.77,322.59" fill="#9acd32"/>
<polygon points="54.25,305.41 56.35,309.11 54.25,312.81 52.15,309.11" fill="#9acd32"/>
<polygon points="57.62,301.83 59.73,305.53 57.62,309.23 55.52,305.53" fill="#9acd32"/>
<polygon points="61.00,300.54 63.10,304.24 61.00,307.94 58.90,304.24" fill="#9acd32"/>
<polygon points="64.38,299.82 66.47,303.52 64.38,307.22 62.27,303.52" fill="#9acd32"/>
<polygon points="67.75,299.39 69.85,303.09 67.75,306.79 65.65,303.09" fill="#9acd32"/>
<polygon points="71.12,299.08 73.22,302.78 71.12,306.48 69.03,302.78" fill="#9acd32"/>
<polygon points="74.50,298.82 76.60,302.52 74.50,306.22 72.40,302.52" fill="#9acd32"/>
<polygon points="77.88,298.59 79.97,302.29 77.88,305.99 75.78,302.29" fill="#9acd32"/>
<polygon points="81.25,298.39 83.35,302.09 81.25,305.79 79.15,302.09" fill="#9acd32"/>
<polygon points="84.62,298.22 86.72,301.92 84.62,305.62 82.53,301.92" fill="#9acd32"/>
<polygon points="88.00,298.06 90.10,301.76 88.00,305.46 85.90,301.76" fill="#9acd32"/>
<polygon points="91.38,297.92 93.47,301.62 91.38,305.32 89.28,301.62" fill="#9acd32"/>
<polygon points="94.75,297.79 96.85,301.49 94.75,305.19 92.65,301.49" fill="#9acd32"/>
<polygon points="98.12,297.67 100.22,301.37 98.12,305.07 96.03,301.37" fill="#9acd32"/>
<polygon points="101.50,297.54 103.60,301.24 101.50,304.94 99.40,301.24" fill="#9acd32"/>
<polygon points="104.88,297.42 106.97,301.12 104.88,304.82 102.78,301.12" fill="#9acd32"/>
<polygon points="108.25,297.31 110.35,301.01 108.25,304.71 106.15,301.01" fill="#9acd32"/>
<polygon points="111.62,297.20 113.72,300.90 111.62,304.60 109.53,300.90" fill="#9acd32"/>
<polygon points="115.00,297.10 117.10,300.80 115.00,304.50 112.90,300.80" fill="#9acd32"/>
<polygon points="118.38,297.01 120.47,300.71 118.38,304.41 116.28,300.71" fill="#9acd32"/>
<polygon points="121.75,296.93 123.85,300.63 121.75,304.33 119.65,300.63" fill="#9acd32"/>
<polygon points="125.12,296.85 127.22,300.55 125.12,304.25 123.03,300.55" fill="#9acd32"/>
<polygon points="128.50,296.77 130.60,300.47 128.50,304.17 126.40,300.47" fill="#9acd32"/>
<polygon points="131.88,296.70 133.97,300.40 131.88,304.10 129.78,300.40" fill="#9acd32"/>
<polygon points="135.25,296.63 137.35,300.33 135.25,304.03 133.15,300.33" fill="#9acd32"/>
<polygon points="138.62,296.56 140.72,300.26 138.62,303.96 136.53,300.26" fill="#9acd32"/>
<polygon points="142.00,296.50 144.10,300.20 142.00,303.90 139.90,300.20" fill="#9acd32"/>
<polygon points="145.38,296.44 147.47,300.14 145.38,303.84 143.28,300.14" fill="#9acd32"/>
<polygon points="148.75,296.38 150.85,300.08 148.75,303.78 146.65,300.08" fill="#9acd32"/>
<polygon points="152.12,296.33 154.22,300.03 152.12,303.73 150.03,300.03" fill="#9acd32"/>
<polygon points="155.50,296.28 157.60,299.98 155.50,303.68 153.40,299.98" fill="#9acd32"/>
<polygon points="158.88,296.24 160.97,299.94 158.88,303.64 156.78,299.94" fill="#9acd32"/>
<polygon points="162.25,296.19 164.35,299.89 162.25,303.59 160.15,299.89" fill="#9acd32"/>
<polygon points="165.62,296.15 167.72,299.85 165.62,303.55 163.53,299.85" fill="#9acd32"/>
<polygon points="169.00,296.11 171.10,299.81 169.00,303.51 166.90,299.81" fill="#9acd32"/>
<polygon points="172.38,296.06 174.47,299.76 172.38,303.46 170.28,299.76" fill="#9acd32"/>
<polygon points="175.75,296.02 177.85,299.72 175.75,303.42 173.65,299.72" fill="#9acd32"/>
<polygon points="179.12,295.99 181.22,299.69 179.12,303.39 177.03,299.69" fill="#9acd32"/>
<polygon points="182.50,295.95 184.60,299.65 182.50,303.35 180.40,299.65" fill="#9acd32"/>
<polygon points="54.25,274.92 51.09,276.74 51.09,280.39 54.25,282.22 57.41,280.39 57.41,276.74" fill="#000080"/>
<polygon points="64.38,266.89 61.21,268.71 61.21,272.36 64.38,274.19 67.54,272.36 67.54,268.71" fill="#000080"/>
<polygon points="81.25,263.59 78.09,265.41 78.09,269.06 81.25,270.89 84.41,269.06 84.41,265.41" fill="#000080"/>
<polygon points="115.00,261.01 111.84,262.83 111.84,266.48 115.00,268.31 118.16,266.48 118.16,262.83" fill="#000080"/>
<polygon points="148.75,259.72 145.59,261.54 145.59,265.19 148.75,267.02 151.91,265.19 151.91,261.54" fill="#000080"/>
<polygon points="57.95,278.28 52.15,275.08 52.15,281.48" fill="#4682b4"/>
<polygon points="68.08,270.11 62.27,266.91 62.27,273.31" fill="#4682b4"/>
<polygon points="84.95,266.81 79.15,263.61 79.15,270.01" fill="#4682b4"/>
<polygon points="118.70,264.08 112.90,260.88 112.90,267.28" fill="#4682b4"/>
<polygon points="152.45,262.65 146.65,259.45 146.65,265.85" fill="#4682b4"/>
</g>
</g>
<clipPath id="c4"><rect x="260.40" y="253.76" width="135.00" height="157.74"/></clipPath>
<g>
<path d="M260.40 253.76 V411.50 M259.80 411.50 H395.40" stroke="#3a3a3a" stroke-width="1.25" fill="none"/>
<path d="M260.40 411.50 H254.70 M260.40 404.33 H257.60 M260.40 397.16 H257.60 M260.40 389.99 H257.60 M260.40 382.82 H254.70 M260.40 375.65 H257.60 M260.40 368.48 H257.60 M260.40 361.31 H257.60 M260.40 354.14 H254.70 M260.40 346.97 H257.60 M260.40 339.80 H257.60 M260.40 332.63 H257.60 M260.40 325.46 H254.70 M260.40 318.29 H257.60 M260.40 311.12 H257.60 M260.40 303.95 H257.60 M260.40 296.78 H254.70 M260.40 289.61 H257.60 M260.40 282.44 H257.60 M260.40 275.27 H257.60 M260.40 268.10 H254.70 M260.40 260.93 H257.60 M260.40 411.50 V417.90 M263.77 411.50 V415.00 M267.15 411.50 V415.00 M270.52 411.50 V415.00 M273.90 411.50 V415.00 M277.27 411.50 V415.00 M280.65 411.50 V415.00 M284.02 411.50 V415.00 M287.40 411.50 V415.00 M290.77 411.50 V415.00 M294.15 411.50 V417.90 M297.52 411.50 V415.00 M300.90 411.50 V415.00 M304.27 411.50 V415.00 M307.65 411.50 V415.00 M311.02 411.50 V415.00 M314.40 411.50 V415.00 M317.77 411.50 V415.00 M321.15 411.50 V415.00 M324.52 411.50 V415.00 M327.90 411.50 V417.90 M331.27 411.50 V415.00 M334.65 411.50 V415.00 M338.02 411.50 V415.00 M341.40 411.50 V415.00 M344.77 411.50 V415.00 M348.15 411.50 V415.00 M351.52 411.50 V415.00 M354.90 411.50 V415.00 M358.27 411.50 V415.00 M361.65 411.50 V417.90 M365.02 411.50 V415.00 M368.40 411.50 V415.00 M371.77 411.50 V415.00 M375.15 411.50 V415.00 M378.52 411.50 V415.00 M381.90 411.50 V415.00 M385.27 411.50 V415.00 M388.65 411.50 V415.00 M392.02 411.50 V415.00 M395.40 411.50 V417.90" stroke="#3a3a3a" stroke-width="1" fill="none"/>
<text x="249.70" y="415.30" text-anchor="end" textLength="22.01" lengthAdjust="spacingAndGlyphs">-100</text>
<text x="249.70" y="386.62" text-anchor="end" textLength="15.84" lengthAdjust="spacingAndGlyphs">-80</text>
<text x="249.70" y="357.94" text-anchor="end" textLength="15.84" lengthAdjust="spacingAndGlyphs">-60</text>
<text x="249.70" y="329.26" text-anchor="end" textLength="15.84" lengthAdjust="spacingAndGlyphs">-40</text>
<text x="249.70" y="300.58" text-anchor="end" textLength="15.84" lengthAdjust="spacingAndGlyphs">-20</text>
<text x="249.70" y="271.90" text-anchor="end" textLength="6.17" lengthAdjust="spacingAndGlyphs">0</text>
<text x="260.40" y="427.90" text-anchor="middle" textLength="6.17" lengthAdjust="spacingAndGlyphs">0</text>
<text x="294.15" y="427.90" text-anchor="middle" textLength="12.34" lengthAdjust="spacingAndGlyphs">10</text>
<text x="327.90" y="427.90" text-anchor="middle" textLength="12.34" lengthAdjust="spacingAndGlyphs">20</text>
<text x="361.65" y="427.90" text-anchor="middle" textLength="12.34" lengthAdjust="spacingAndGlyphs">30</text>
<text x="395.40" y="427.90" text-anchor="middle" textLength="12.34" lengthAdjust="spacingAndGlyphs">40</text>
<text x="327.90" y="437.80" text-anchor="middle" textLength="100.51" lengthAdjust="spacingAndGlyphs">Number of iterations</text>
<text x="327.90" y="247.86" text-anchor="middle" textLength="43.43" lengthAdjust="spacingAndGlyphs">Sphere 5</text>
<text transform="translate(221.40 332.63) rotate(-90)" x="0" y="0" text-anchor="middle" textLength="105.15" lengthAdjust="spacingAndGlyphs">Mean relative error/%</text>
<g clip-path="url(#c4)">
<polygon points="267.17,311.84 265.47,308.89 262.07,308.89 260.38,311.84 262.07,314.78 265.47,314.78" fill="#2e8b57" stroke="#1f7a45" stroke-width="0.7"/>
<polygon points="270.55,300.65 268.85,297.71 265.45,297.71 263.75,300.65 265.45,303.60 268.85,303.60" fill="#2e8b57" stroke="#1f7a45" stroke-width="0.7"/>
<polygon points="273.92,297.93 272.22,294.98 268.82,294.98 267.12,297.93 268.82,300.87 272.22,300.87" fill="#2e8b57" stroke="#1f7a45" stroke-width="0.7"/>
<polygon points="277.30,296.64 275.60,293.69 272.20,293.69 270.50,296.64 272.20,299.58 275.60,299.58" fill="#2e8b57" stroke="#1f7a45" stroke-width="0.7"/>
<polygon points="280.67,295.92 278.97,292.98 275.57,292.98 273.88,295.92 275.57,298.86 278.97,298.86" fill="#2e8b57" stroke="#1f7a45" stroke-width="0.7"/>
<polygon points="284.05,295.49 282.35,292.54 278.95,292.54 277.25,295.49 278.95,298.43 282.35,298.43" fill="#2e8b57" stroke="#1f7a45" stroke-width="0.7"/>
<polygon points="287.42,295.18 285.72,292.24 282.32,292.24 280.62,295.18 282.32,298.13 285.72,298.13" fill="#2e8b57" stroke="#1f7a45" stroke-width="0.7"/>
<polygon points="290.80,294.92 289.10,291.97 285.70,291.97 284.00,294.92 285.70,297.86 289.10,297.86" fill="#2e8b57" stroke="#1f7a45" stroke-width="0.7"/>
<polygon points="294.17,294.69 292.47,291.74 289.07,291.74 287.38,294.69 289.07,297.63 292.47,297.63" fill="#2e8b57" stroke="#1f7a45" stroke-width="0.7"/>
<polygon points="297.55,294.49 295.85,291.54 292.45,291.54 290.75,294.49 292.45,297.43 295.85,297.43" fill="#2e8b57" stroke="#1f7a45" stroke-width="0.7"/>
<polygon points="300.92,294.32 299.22,291.37 295.82,291.37 294.12,294.32 295.82,297.26 299.22,297.26" fill="#2e8b57" stroke="#1f7a45" stroke-width="0.7"/>
<polygon points="304.30,294.16 302.60,291.22 299.20,291.22 297.50,294.16 299.20,297.11 302.60,297.11" fill="#2e8b57" stroke="#1f7a45" stroke-width="0.7"/>
<polygon points="307.67,294.02 305.97,291.08 302.57,291.08 300.88,294.02 302.57,296.97 305.97,296.97" fill="#2e8b57" stroke="#1f7a45" stroke-width="0.7"/>
<polygon points="311.05,293.89 309.35,290.95 305.95,290.95 304.25,293.89 305.95,296.84 309.35,296.84" fill="#2e8b57" stroke="#1f7a45" stroke-width="0.7"/>
<polygon points="314.42,293.77 312.72,290.82 309.32,290.82 307.62,293.77 309.32,296.71 312.72,296.71" fill="#2e8b57" stroke="#1f7a45" stroke-width="0.7"/>
<polygon points="317.80,293.67 316.10,290.73 312.70,290.73 311.00,293.67 312.70,296.62 316.10,296.62" fill="#2e8b57" stroke="#1f7a45" stroke-width="0.7"/>
<polygon points="321.17,293.58 319.47,290.64 316.07,290.64 314.38,293.58 316.07,296.53 319.47,296.53" fill="#2e8b57" stroke="#1f7a45" stroke-width="0.7"/>
<polygon points="324.55,293.50 322.85,290.55 319.45,290.55 317.75,293.50 319.45,296.44 322.85,296.44" fill="#2e8b57" stroke="#1f7a45" stroke-width="0.7"/>
<polygon points="327.92,293.42 326.22,290.47 322.82,290.47 321.12,293.42 322.82,296.36 326.22,296.36" fill="#2e8b57" stroke="#1f7a45" stroke-width="0.7"/>
<polygon points="331.30,293.34 329.60,290.39 326.20,290.39 324.50,293.34 326.20,296.28 329.60,296.28" fill="#2e8b57" stroke="#1f7a45" stroke-width="0.7"/>
<polygon points="334.67,293.27 332.97,290.32 329.57,290.32 327.88,293.27 329.57,296.21 332.97,296.21" fill="#2e8b57" stroke="#1f7a45" stroke-width="0.7"/>
<polygon points="338.05,293.20 336.35,290.26 332.95,290.26 331.25,293.20 332.95,296.15 336.35,296.15" fill="#2e8b57" stroke="#1f7a45" stroke-width="0.7"/>
<polygon points="341.42,293.14 339.72,290.20 336.32,290.20 334.62,293.14 336.32,296.09 339.72,296.09" fill="#2e8b57" stroke="#1f7a45" stroke-width="0.7"/>
<polygon points="344.80,293.08 343.10,290.14 339.70,290.14 338.00,293.08 339.70,296.02 343.10,296.02" fill="#2e8b57" stroke="#1f7a45" stroke-width="0.7"/>
<polygon points="348.17,293.02 346.47,290.08 343.07,290.08 341.38,293.02 343.07,295.97 346.47,295.97" fill="#2e8b57" stroke="#1f7a45" stroke-width="0.7"/>
<polygon points="351.55,292.97 349.85,290.02 346.45,290.02 344.75,292.97 346.45,295.91 349.85,295.91" fill="#2e8b57" stroke="#1f7a45" stroke-width="0.7"/>
<polygon points="354.92,292.91 353.22,289.97 349.82,289.97 348.12,292.91 349.82,295.86 353.22,295.86" fill="#2e8b57" stroke="#1f7a45" stroke-width="0.7"/>
<polygon points="358.30,292.86 356.60,289.92 353.20,289.92 351.50,292.86 353.20,295.81 356.60,295.81" fill="#2e8b57" stroke="#1f7a45" stroke-width="0.7"/>
<polygon points="361.67,292.81 359.97,289.87 356.57,289.87 354.88,292.81 356.57,295.76 359.97,295.76" fill="#2e8b57" stroke="#1f7a45" stroke-width="0.7"/>
<polygon points="365.05,292.76 363.35,289.82 359.95,289.82 358.25,292.76 359.95,295.71 363.35,295.71" fill="#2e8b57" stroke="#1f7a45" stroke-width="0.7"/>
<polygon points="368.42,292.72 366.72,289.77 363.32,289.77 361.62,292.72 363.32,295.66 366.72,295.66" fill="#2e8b57" stroke="#1f7a45" stroke-width="0.7"/>
<polygon points="371.80,292.67 370.10,289.72 366.70,289.72 365.00,292.67 366.70,295.61 370.10,295.61" fill="#2e8b57" stroke="#1f7a45" stroke-width="0.7"/>
<polygon points="375.17,292.62 373.47,289.68 370.07,289.68 368.38,292.62 370.07,295.57 373.47,295.57" fill="#2e8b57" stroke="#1f7a45" stroke-width="0.7"/>
<polygon points="378.55,292.58 376.85,289.63 373.45,289.63 371.75,292.58 373.45,295.52 376.85,295.52" fill="#2e8b57" stroke="#1f7a45" stroke-width="0.7"/>
<polygon points="381.92,292.53 380.22,289.59 376.82,289.59 375.12,292.53 376.82,295.48 380.22,295.48" fill="#2e8b57" stroke="#1f7a45" stroke-width="0.7"/>
<polygon points="385.30,292.49 383.60,289.55 380.20,289.55 378.50,292.49 380.20,295.44 383.60,295.44" fill="#2e8b57" stroke="#1f7a45" stroke-width="0.7"/>
<polygon points="388.67,292.45 386.97,289.51 383.57,289.51 381.88,292.45 383.57,295.40 386.97,295.40" fill="#2e8b57" stroke="#1f7a45" stroke-width="0.7"/>
<polygon points="392.05,292.41 390.35,289.47 386.95,289.47 385.25,292.41 386.95,295.36 390.35,295.36" fill="#2e8b57" stroke="#1f7a45" stroke-width="0.7"/>
<polygon points="395.42,292.37 393.72,289.43 390.32,289.43 388.62,292.37 390.32,295.32 393.72,295.32" fill="#2e8b57" stroke="#1f7a45" stroke-width="0.7"/>
<polygon points="398.80,292.33 397.10,289.39 393.70,289.39 392.00,292.33 393.70,295.28 397.10,295.28" fill="#2e8b57" stroke="#1f7a45" stroke-width="0.7"/>
<polygon points="263.77,308.14 265.88,311.84 263.77,315.54 261.67,311.84" fill="#9acd32"/>
<polygon points="267.15,296.52 269.25,300.22 267.15,303.92 265.05,300.22" fill="#9acd32"/>
<polygon points="270.52,293.22 272.62,296.92 270.52,300.62 268.42,296.92" fill="#9acd32"/>
<polygon points="273.90,291.93 276.00,295.63 273.90,299.33 271.80,295.63" fill="#9acd32"/>
<polygon points="277.27,291.22 279.38,294.92 277.27,298.62 275.17,294.92" fill="#9acd32"/>
<polygon points="280.65,290.79 282.75,294.49 280.65,298.19 278.55,294.49" fill="#9acd32"/>
<polygon points="284.02,290.48 286.12,294.18 284.02,297.88 281.92,294.18" fill="#9acd32"/>
<polygon points="287.40,290.21 289.50,293.91 287.40,297.61 285.30,293.91" fill="#9acd32"/>
<polygon points="290.77,289.98 292.88,293.68 290.77,297.38 288.67,293.68" fill="#9acd32"/>
<polygon points="294.15,289.78 296.25,293.48 294.15,297.18 292.05,293.48" fill="#9acd32"/>
<polygon points="297.52,289.61 299.62,293.31 297.52,297.01 295.42,293.31" fill="#9acd32"/>
<polygon points="300.90,289.46 303.00,293.16 300.90,296.86 298.80,293.16" fill="#9acd32"/>
<polygon points="304.27,289.32 306.38,293.02 304.27,296.72 302.17,293.02" fill="#9acd32"/>
<polygon points="307.65,289.19 309.75,292.89 307.65,296.59 305.55,292.89" fill="#9acd32"/>
<polygon points="311.02,289.06 313.12,292.76 311.02,296.46 308.92,292.76" fill="#9acd32"/>
<polygon points="314.40,288.97 316.50,292.67 314.40,296.37 312.30,292.67" fill="#9acd32"/>
<polygon points="317.77,288.88 319.88,292.58 317.77,296.28 315.67,292.58" fill="#9acd32"/>
<polygon points="321.15,288.79 323.25,292.49 321.15,296.19 319.05,292.49" fill="#9acd32"/>
<polygon points="324.52,288.71 326.62,292.41 324.52,296.11 322.42,292.41" fill="#9acd32"/>
<polygon points="327.90,288.63 330.00,292.33 327.90,296.03 325.80,292.33" fill="#9acd32"/>
<polygon points="331.27,288.57 333.38,292.27 331.27,295.97 329.17,292.27" fill="#9acd32"/>
<polygon points="334.65,288.50 336.75,292.20 334.65,295.90 332.55,292.20" fill="#9acd32"/>
<polygon points="338.02,288.44 340.12,292.14 338.02,295.84 335.92,292.14" fill="#9acd32"/>
<polygon points="341.40,288.38 343.50,292.08 341.40,295.78 339.30,292.08" fill="#9acd32"/>
<polygon points="344.77,288.32 346.88,292.02 344.77,295.72 342.67,292.02" fill="#9acd32"/>
<polygon points="348.15,288.26 350.25,291.96 348.15,295.66 346.05,291.96" fill="#9acd32"/>
<polygon points="351.52,288.21 353.62,291.91 351.52,295.61 349.42,291.91" fill="#9acd32"/>
<polygon points="354.90,288.16 357.00,291.86 354.90,295.56 352.80,291.86" fill="#9acd32"/>
<polygon points="358.27,288.11 360.38,291.81 358.27,295.51 356.17,291.81" fill="#9acd32"/>
<polygon points="361.65,288.06 363.75,291.76 361.65,295.46 359.55,291.76" fill="#9acd32"/>
<polygon points="365.02,288.01 367.12,291.71 365.02,295.41 362.92,291.71" fill="#9acd32"/>
<polygon points="368.40,287.96 370.50,291.66 368.40,295.36 366.30,291.66" fill="#9acd32"/>
<polygon points="371.77,287.92 373.88,291.62 371.77,295.32 369.67,291.62" fill="#9acd32"/>
<polygon points="375.15,287.87 377.25,291.57 375.15,295.27 373.05,291.57" fill="#9acd32"/>
<polygon points="378.52,287.83 380.62,291.53 378.52,295.23 376.42,291.53" fill="#9acd32"/>
<polygon points="381.90,287.79 384.00,291.49 381.90,295.19 379.80,291.49" fill="#9acd32"/>
<polygon points="385.27,287.75 387.38,291.45 385.27,295.15 383.17,291.45" fill="#9acd32"/>
<polygon points="388.65,287.71 390.75,291.41 388.65,295.11 386.55,291.41" fill="#9acd32"/>
<polygon points="392.02,287.67 394.12,291.37 392.02,295.07 389.92,291.37" fill="#9acd32"/>
<polygon points="395.40,287.63 397.50,291.33 395.40,295.03 393.30,291.33" fill="#9acd32"/>
<polygon points="267.15,277.79 263.99,279.61 263.99,283.26 267.15,285.09 270.31,283.26 270.31,279.61" fill="#000080"/>
<polygon points="277.27,270.19 274.11,272.01 274.11,275.66 277.27,277.49 280.44,275.66 280.44,272.01" fill="#000080"/>
<polygon points="294.15,267.75 290.99,269.57 290.99,273.22 294.15,275.05 297.31,273.22 297.31,269.57" fill="#000080"/>
<polygon points="327.90,265.38 324.74,267.21 324.74,270.86 327.90,272.68 331.06,270.86 331.06,267.21" fill="#000080"/>
<polygon points="361.65,264.31 358.49,266.13 358.49,269.78 361.65,271.61 364.81,269.78 364.81,266.13" fill="#000080"/>
<polygon points="270.85,281.29 265.05,278.09 265.05,284.49" fill="#4682b4"/>
<polygon points="280.97,273.69 275.17,270.49 275.17,276.89" fill="#4682b4"/>
<polygon points="297.85,271.25 292.05,268.05 292.05,274.45" fill="#4682b4"/>
<polygon points="331.60,268.82 325.80,265.62 325.80,272.02" fill="#4682b4"/>
<polygon points="365.35,267.81 359.55,264.61 359.55,271.01" fill="#4682b4"/>
</g>
</g>
<clipPath id="c5"><rect x="472.60" y="253.76" width="135.00" height="157.74"/></clipPath>
<g>
<path d="M472.60 253.76 V411.50 M472.00 411.50 H607.60" stroke="#3a3a3a" stroke-width="1.25" fill="none"/>
<path d="M472.60 411.50 H466.90 M472.60 404.33 H469.80 M472.60 397.16 H469.80 M472.60 389.99 H469.80 M472.60 382.82 H466.90 M472.60 375.65 H469.80 M472.60 368.48 H469.80 M472.60 361.31 H469.80 M472.60 354.14 H466.90 M472.60 346.97 H469.80 M472.60 339.80 H469.80 M472.60 332.63 H469.80 M472.60 325.46 H466.90 M472.60 318.29 H469.80 M472.60 311.12 H469.80 M472.60 303.95 H469.80 M472.60 296.78 H466.90 M472.60 289.61 H469.80 M472.60 282.44 H469.80 M472.60 275.27 H469.80 M472.60 268.10 H466.90 M472.60 260.93 H469.80 M472.60 411.50 V417.90 M475.98 411.50 V415.00 M479.35 411.50 V415.00 M482.73 411.50 V415.00 M486.10 411.50 V415.00 M489.48 411.50 V415.00 M492.85 411.50 V415.00 M496.23 411.50 V415.00 M499.60 411.50 V415.00 M502.98 411.50 V415.00 M506.35 411.50 V417.90 M509.73 411.50 V415.00 M513.10 411.50 V415.00 M516.48 411.50 V415.00 M519.85 411.50 V415.00 M523.23 411.50 V415.00 M526.60 411.50 V415.00 M529.98 411.50 V415.00 M533.35 411.50 V415.00 M536.73 411.50 V415.00 M540.10 411.50 V417.90 M543.48 411.50 V415.00 M546.85 411.50 V415.00 M550.23 411.50 V415.00 M553.60 411.50 V415.00 M556.98 411.50 V415.00 M560.35 411.50 V415.00 M563.73 411.50 V415.00 M567.10 411.50 V415.00 M570.48 411.50 V415.00 M573.85 411.50 V417.90 M577.23 411.50 V415.00 M580.60 411.50 V415.00 M583.98 411.50 V415.00 M587.35 411.50 V415.00 M590.73 411.50 V415.00 M594.10 411.50 V415.00 M597.48 411.50 V415.00 M600.85 411.50 V415.00 M604.23 411.50 V415.00 M607.60 411.50 V417.90" stroke="#3a3a3a" stroke-width="1" fill="none"/>
<text x="461.90" y="415.30" text-anchor="end" textLength="22.01" lengthAdjust="spacingAndGlyphs">-100</text>
<text x="461.90" y="386.62" text-anchor="end" textLength="15.84" lengthAdjust="spacingAndGlyphs">-80</text>
<text x="461.90" y="357.94" text-anchor="end" textLength="15.84" lengthAdjust="spacingAndGlyphs">-60</text>
<text x="461.90" y="329.26" text-anchor="end" textLength="15.84" lengthAdjust="spacingAndGlyphs">-40</text>
<text x="461.90" y="300.58" text-anchor="end" textLength="15.84" lengthAdjust="spacingAndGlyphs">-20</text>
<text x="461.90" y="271.90" text-anchor="end" textLength="6.17" lengthAdjust="spacingAndGlyphs">0</text>
<text x="472.60" y="427.90" text-anchor="middle" textLength="6.17" lengthAdjust="spacingAndGlyphs">0</text>
<text x="506.35" y="427.90" text-anchor="middle" textLength="12.34" lengthAdjust="spacingAndGlyphs">10</text>
<text x="540.10" y="427.90" text-anchor="middle" textLength="12.34" lengthAdjust="spacingAndGlyphs">20</text>
<text x="573.85" y="427.90" text-anchor="middle" textLength="12.34" lengthAdjust="spacingAndGlyphs">30</text>
<text x="607.60" y="427.90" text-anchor="middle" textLength="12.34" lengthAdjust="spacingAndGlyphs">40</text>
<text x="540.10" y="437.80" text-anchor="middle" textLength="100.51" lengthAdjust="spacingAndGlyphs">Number of iterations</text>
<text x="540.10" y="247.86" text-anchor="middle" textLength="43.43" lengthAdjust="spacingAndGlyphs">Sphere 6</text>
<text transform="translate(433.60 332.63) rotate(-90)" x="0" y="0" text-anchor="middle" textLength="105.15" lengthAdjust="spacingAndGlyphs">Mean relative error/%</text>
<g clip-path="url(#c5)">
<polygon points="479.38,289.90 477.68,286.95 474.28,286.95 472.58,289.90 474.28,292.84 477.68,292.84" fill="#2e8b57" stroke="#1f7a45" stroke-width="0.7"/>
<polygon points="482.75,281.44 481.05,278.49 477.65,278.49 475.95,281.44 477.65,284.38 481.05,284.38" fill="#2e8b57" stroke="#1f7a45" stroke-width="0.7"/>
<polygon points="486.12,279.57 484.43,276.63 481.03,276.63 479.33,279.57 481.03,282.52 484.43,282.52" fill="#2e8b57" stroke="#1f7a45" stroke-width="0.7"/>
<polygon points="489.50,278.64 487.80,275.70 484.40,275.70 482.70,278.64 484.40,281.58 487.80,281.58" fill="#2e8b57" stroke="#1f7a45" stroke-width="0.7"/>
<polygon points="492.88,278.14 491.18,275.19 487.78,275.19 486.08,278.14 487.78,281.08 491.18,281.08" fill="#2e8b57" stroke="#1f7a45" stroke-width="0.7"/>
<polygon points="496.25,277.78 494.55,274.84 491.15,274.84 489.45,277.78 491.15,280.72 494.55,280.72" fill="#2e8b57" stroke="#1f7a45" stroke-width="0.7"/>
<polygon points="499.62,277.55 497.93,274.60 494.53,274.60 492.83,277.55 494.53,280.49 497.93,280.49" fill="#2e8b57" stroke="#1f7a45" stroke-width="0.7"/>
<polygon points="503.00,277.35 501.30,274.40 497.90,274.40 496.20,277.35 497.90,280.29 501.30,280.29" fill="#2e8b57" stroke="#1f7a45" stroke-width="0.7"/>
<polygon points="506.38,277.16 504.68,274.22 501.28,274.22 499.58,277.16 501.28,280.10 504.68,280.10" fill="#2e8b57" stroke="#1f7a45" stroke-width="0.7"/>
<polygon points="509.75,276.99 508.05,274.05 504.65,274.05 502.95,276.99 504.65,279.94 508.05,279.94" fill="#2e8b57" stroke="#1f7a45" stroke-width="0.7"/>
<polygon points="513.12,276.89 511.43,273.95 508.03,273.95 506.33,276.89 508.03,279.83 511.43,279.83" fill="#2e8b57" stroke="#1f7a45" stroke-width="0.7"/>
<polygon points="516.50,276.80 514.80,273.85 511.40,273.85 509.70,276.80 511.40,279.74 514.80,279.74" fill="#2e8b57" stroke="#1f7a45" stroke-width="0.7"/>
<polygon points="519.88,276.71 518.18,273.77 514.77,273.77 513.08,276.71 514.77,279.66 518.18,279.66" fill="#2e8b57" stroke="#1f7a45" stroke-width="0.7"/>
<polygon points="523.25,276.63 521.55,273.69 518.15,273.69 516.45,276.63 518.15,279.58 521.55,279.58" fill="#2e8b57" stroke="#1f7a45" stroke-width="0.7"/>
<polygon points="526.62,276.56 524.93,273.62 521.52,273.62 519.83,276.56 521.52,279.51 524.93,279.51" fill="#2e8b57" stroke="#1f7a45" stroke-width="0.7"/>
<polygon points="530.00,276.50 528.30,273.55 524.90,273.55 523.20,276.50 524.90,279.44 528.30,279.44" fill="#2e8b57" stroke="#1f7a45" stroke-width="0.7"/>
<polygon points="533.38,276.44 531.68,273.49 528.27,273.49 526.58,276.44 528.27,279.38 531.68,279.38" fill="#2e8b57" stroke="#1f7a45" stroke-width="0.7"/>
<polygon points="536.75,276.38 535.05,273.43 531.65,273.43 529.95,276.38 531.65,279.32 535.05,279.32" fill="#2e8b57" stroke="#1f7a45" stroke-width="0.7"/>
<polygon points="540.12,276.32 538.43,273.38 535.02,273.38 533.33,276.32 535.02,279.27 538.43,279.27" fill="#2e8b57" stroke="#1f7a45" stroke-width="0.7"/>
<polygon points="543.50,276.27 541.80,273.33 538.40,273.33 536.70,276.27 538.40,279.22 541.80,279.22" fill="#2e8b57" stroke="#1f7a45" stroke-width="0.7"/>
<polygon points="546.88,276.22 545.18,273.28 541.77,273.28 540.08,276.22 541.77,279.17 545.18,279.17" fill="#2e8b57" stroke="#1f7a45" stroke-width="0.7"/>
<polygon points="550.25,276.17 548.55,273.23 545.15,273.23 543.45,276.17 545.15,279.12 548.55,279.12" fill="#2e8b57" stroke="#1f7a45" stroke-width="0.7"/>
<polygon points="553.62,276.13 551.93,273.18 548.52,273.18 546.83,276.13 548.52,279.07 551.93,279.07" fill="#2e8b57" stroke="#1f7a45" stroke-width="0.7"/>
<polygon points="557.00,276.08 555.30,273.14 551.90,273.14 550.20,276.08 551.90,279.02 555.30,279.02" fill="#2e8b57" stroke="#1f7a45" stroke-width="0.7"/>
<polygon points="560.38,276.04 558.68,273.09 555.27,273.09 553.58,276.04 555.27,278.98 558.68,278.98" fill="#2e8b57" stroke="#1f7a45" stroke-width="0.7"/>
<polygon points="563.75,276.00 562.05,273.05 558.65,273.05 556.95,276.00 558.65,278.94 562.05,278.94" fill="#2e8b57" stroke="#1f7a45" stroke-width="0.7"/>
<polygon points="567.12,275.96 565.43,273.01 562.02,273.01 560.33,275.96 562.02,278.90 565.43,278.90" fill="#2e8b57" stroke="#1f7a45" stroke-width="0.7"/>
<polygon points="570.50,275.92 568.80,272.97 565.40,272.97 563.70,275.92 565.40,278.86 568.80,278.86" fill="#2e8b57" stroke="#1f7a45" stroke-width="0.7"/>
<polygon points="573.88,275.88 572.18,272.94 568.77,272.94 567.08,275.88 568.77,278.82 572.18,278.82" fill="#2e8b57" stroke="#1f7a45" stroke-width="0.7"/>
<polygon points="577.25,275.84 575.55,272.90 572.15,272.90 570.45,275.84 572.15,278.79 575.55,278.79" fill="#2e8b57" stroke="#1f7a45" stroke-width="0.7"/>
<polygon points="580.62,275.81 578.93,272.87 575.52,272.87 573.83,275.81 575.52,278.76 578.93,278.76" fill="#2e8b57" stroke="#1f7a45" stroke-width="0.7"/>
<polygon points="584.00,275.78 582.30,272.83 578.90,272.83 577.20,275.78 578.90,278.72 582.30,278.72" fill="#2e8b57" stroke="#1f7a45" stroke-width="0.7"/>
<polygon points="587.38,275.75 585.68,272.80 582.27,272.80 580.58,275.75 582.27,278.69 585.68,278.69" fill="#2e8b57" stroke="#1f7a45" stroke-width="0.7"/>
<polygon points="590.75,275.72 589.05,272.77 585.65,272.77 583.95,275.72 585.65,278.66 589.05,278.66" fill="#2e8b57" stroke="#1f7a45" stroke-width="0.7"/>
<polygon points="594.12,275.69 592.43,272.75 589.02,272.75 587.33,275.69 589.02,278.63 592.43,278.63" fill="#2e8b57" stroke="#1f7a45" stroke-width="0.7"/>
<polygon points="597.50,275.66 595.80,272.72 592.40,272.72 590.70,275.66 592.40,278.61 595.80,278.61" fill="#2e8b57" stroke="#1f7a45" stroke-width="0.7"/>
<polygon points="600.88,275.63 599.18,272.69 595.77,272.69 594.08,275.63 595.77,278.58 599.18,278.58" fill="#2e8b57" stroke="#1f7a45" stroke-width="0.7"/>
<polygon points="604.25,275.61 602.55,272.66 599.15,272.66 597.45,275.61 599.15,278.55 602.55,278.55" fill="#2e8b57" stroke="#1f7a45" stroke-width="0.7"/>
<polygon points="607.62,275.58 605.93,272.64 602.52,272.64 600.83,275.58 602.52,278.53 605.93,278.53" fill="#2e8b57" stroke="#1f7a45" stroke-width="0.7"/>
<polygon points="611.00,275.56 609.30,272.61 605.90,272.61 604.20,275.56 605.90,278.50 609.30,278.50" fill="#2e8b57" stroke="#1f7a45" stroke-width="0.7"/>
<polygon points="475.98,286.20 478.08,289.90 475.98,293.60 473.88,289.90" fill="#9acd32"/>
<polygon points="479.35,277.31 481.45,281.01 479.35,284.71 477.25,281.01" fill="#9acd32"/>
<polygon points="482.73,275.37 484.83,279.07 482.73,282.77 480.62,279.07" fill="#9acd32"/>
<polygon points="486.10,274.45 488.20,278.15 486.10,281.85 484.00,278.15" fill="#9acd32"/>
<polygon points="489.48,273.95 491.58,277.65 489.48,281.35 487.38,277.65" fill="#9acd32"/>
<polygon points="492.85,273.60 494.95,277.30 492.85,281.00 490.75,277.30" fill="#9acd32"/>
<polygon points="496.23,273.37 498.33,277.07 496.23,280.77 494.12,277.07" fill="#9acd32"/>
<polygon points="499.60,273.17 501.70,276.87 499.60,280.57 497.50,276.87" fill="#9acd32"/>
<polygon points="502.98,272.99 505.08,276.69 502.98,280.39 500.88,276.69" fill="#9acd32"/>
<polygon points="506.35,272.82 508.45,276.52 506.35,280.22 504.25,276.52" fill="#9acd32"/>
<polygon points="509.73,272.72 511.83,276.42 509.73,280.12 507.62,276.42" fill="#9acd32"/>
<polygon points="513.10,272.63 515.20,276.33 513.10,280.03 511.00,276.33" fill="#9acd32"/>
<polygon points="516.48,272.55 518.58,276.25 516.48,279.95 514.38,276.25" fill="#9acd32"/>
<polygon points="519.85,272.47 521.95,276.17 519.85,279.87 517.75,276.17" fill="#9acd32"/>
<polygon points="523.23,272.40 525.33,276.10 523.23,279.80 521.12,276.10" fill="#9acd32"/>
<polygon points="526.60,272.34 528.70,276.04 526.60,279.74 524.50,276.04" fill="#9acd32"/>
<polygon points="529.98,272.28 532.08,275.98 529.98,279.68 527.88,275.98" fill="#9acd32"/>
<polygon points="533.35,272.23 535.45,275.93 533.35,279.63 531.25,275.93" fill="#9acd32"/>
<polygon points="536.73,272.17 538.83,275.87 536.73,279.57 534.62,275.87" fill="#9acd32"/>
<polygon points="540.10,272.12 542.20,275.82 540.10,279.52 538.00,275.82" fill="#9acd32"/>
<polygon points="543.48,272.07 545.58,275.77 543.48,279.47 541.38,275.77" fill="#9acd32"/>
<polygon points="546.85,272.03 548.95,275.73 546.85,279.43 544.75,275.73" fill="#9acd32"/>
<polygon points="550.23,271.98 552.33,275.68 550.23,279.38 548.12,275.68" fill="#9acd32"/>
<polygon points="553.60,271.94 555.70,275.64 553.60,279.34 551.50,275.64" fill="#9acd32"/>
<polygon points="556.98,271.89 559.08,275.59 556.98,279.29 554.88,275.59" fill="#9acd32"/>
<polygon points="560.35,271.85 562.45,275.55 560.35,279.25 558.25,275.55" fill="#9acd32"/>
<polygon points="563.73,271.81 565.83,275.51 563.73,279.21 561.62,275.51" fill="#9acd32"/>
<polygon points="567.10,271.78 569.20,275.48 567.10,279.18 565.00,275.48" fill="#9acd32"/>
<polygon points="570.48,271.74 572.58,275.44 570.48,279.14 568.38,275.44" fill="#9acd32"/>
<polygon points="573.85,271.71 575.95,275.41 573.85,279.11 571.75,275.41" fill="#9acd32"/>
<polygon points="577.23,271.67 579.33,275.37 577.23,279.07 575.12,275.37" fill="#9acd32"/>
<polygon points="580.60,271.64 582.70,275.34 580.60,279.04 578.50,275.34" fill="#9acd32"/>
<polygon points="583.98,271.61 586.08,275.31 583.98,279.01 581.88,275.31" fill="#9acd32"/>
<polygon points="587.35,271.58 589.45,275.28 587.35,278.98 585.25,275.28" fill="#9acd32"/>
<polygon points="590.73,271.56 592.83,275.26 590.73,278.96 588.62,275.26" fill="#9acd32"/>
<polygon points="594.10,271.53 596.20,275.23 594.10,278.93 592.00,275.23" fill="#9acd32"/>
<polygon points="597.48,271.50 599.58,275.20 597.48,278.90 595.38,275.20" fill="#9acd32"/>
<polygon points="600.85,271.48 602.95,275.18 600.85,278.88 598.75,275.18" fill="#9acd32"/>
<polygon points="604.23,271.45 606.33,275.15 604.23,278.85 602.12,275.15" fill="#9acd32"/>
<polygon points="607.60,271.43 609.70,275.13 607.60,278.83 605.50,275.13" fill="#9acd32"/>
<polygon points="479.35,263.73 476.19,265.56 476.19,269.21 479.35,271.03 482.51,269.21 482.51,265.56" fill="#000080"/>
<polygon points="489.48,259.29 486.31,261.11 486.31,264.76 489.48,266.59 492.64,264.76 492.64,261.11" fill="#000080"/>
<polygon points="506.35,258.57 503.19,260.40 503.19,264.05 506.35,265.87 509.51,264.05 509.51,260.40" fill="#000080"/>
<polygon points="540.10,257.06 536.94,258.89 536.94,262.54 540.10,264.36 543.26,262.54 543.26,258.89" fill="#000080"/>
<polygon points="573.85,256.06 570.69,257.89 570.69,261.54 573.85,263.36 577.01,261.54 577.01,257.89" fill="#000080"/>
<polygon points="483.05,267.10 477.25,263.90 477.25,270.30" fill="#4682b4"/>
<polygon points="493.18,262.65 487.38,259.45 487.38,265.85" fill="#4682b4"/>
<polygon points="510.05,261.93 504.25,258.73 504.25,265.13" fill="#4682b4"/>
<polygon points="543.80,260.43 538.00,257.23 538.00,263.63" fill="#4682b4"/>
<polygon points="577.55,259.42 571.75,256.22 571.75,262.62" fill="#4682b4"/>
</g>
</g>
<rect x="582.5" y="0.5" width="102" height="58" fill="#fff" stroke="#bdbdbd" stroke-width="1"/>
<path d="M582.5 0.5 H684.5 V58.5" stroke="#8a8a8a" stroke-width="1" fill="none"/>
<path d="M582.5 58.6 H684.5" stroke="#a8a8a8" stroke-width="1.4" fill="none"/>
<polygon points="593.80,7.40 591.95,4.20 588.25,4.20 586.40,7.40 588.25,10.60 591.95,10.60" fill="#2e8b57"/>
<polygon points="590.10,18.00 592.10,21.50 590.10,25.00 588.10,21.50" fill="#9acd32"/>
<polygon points="590.10,32.15 587.11,33.88 587.11,37.33 590.10,39.05 593.09,37.33 593.09,33.88" fill="#000080"/>
<polygon points="593.80,49.70 588.00,46.50 588.00,52.90" fill="#4682b4"/>
<text x="597.5" y="10.90" textLength="58.41" lengthAdjust="spacingAndGlyphs">Mean Anger</text>
<text x="597.5" y="25.00" textLength="73.56" lengthAdjust="spacingAndGlyphs">Full time Anger</text>
<text x="597.5" y="39.10" textLength="70.93" lengthAdjust="spacingAndGlyphs">Mean ring CZT</text>
<text x="597.5" y="53.20" textLength="86.08" lengthAdjust="spacingAndGlyphs">Full time ring CZT</text>
</svg>
</body></html>
